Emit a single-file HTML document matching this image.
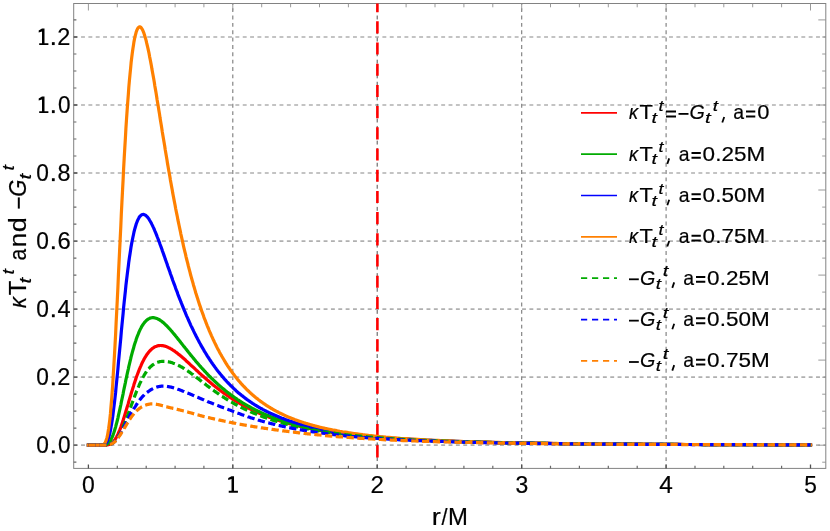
<!DOCTYPE html>
<html><head><meta charset="utf-8"><title>plot</title>
<style>html,body{margin:0;padding:0;background:#fff}svg{display:block}text{font-family:"Liberation Sans",sans-serif;fill:#000}.i{font-style:italic}</style></head><body>
<svg width="830" height="531" viewBox="0 0 830 531">
<rect width="830" height="531" fill="#fff"/>
<g stroke="#b0b0b0" stroke-width="1.7" stroke-dasharray="3.9 3.45" fill="none"><line x1="73.7" y1="445.2" x2="825.8" y2="445.2"/><line x1="73.7" y1="377.2" x2="825.8" y2="377.2"/><line x1="73.7" y1="309.1" x2="825.8" y2="309.1"/><line x1="73.7" y1="241.1" x2="825.8" y2="241.1"/><line x1="73.7" y1="173.0" x2="825.8" y2="173.0"/><line x1="73.7" y1="105.0" x2="825.8" y2="105.0"/><line x1="73.7" y1="37.0" x2="825.8" y2="37.0"/></g>
<g stroke="#7a7a7a" stroke-width="1.1" stroke-dasharray="3.9 3.46" fill="none"><line x1="232.8" y1="468.4" x2="232.8" y2="3.5"/><line x1="521.7" y1="468.4" x2="521.7" y2="3.5"/><line x1="666.1" y1="468.4" x2="666.1" y2="3.5"/></g>
<line x1="377.2" y1="468.4" x2="377.2" y2="3.5" stroke="#505050" stroke-width="1" stroke-dasharray="3.9 3.46"/>
<rect x="73.7" y="3.5" width="752.1" height="464.9" fill="none" stroke="#828282" stroke-width="1.0"/>
<path d="M88.4,3.5v7.0M117.3,3.5v3.8M146.2,3.5v3.8M175.1,3.5v3.8M203.9,3.5v3.8M232.8,3.5v7.0M261.7,3.5v3.8M290.6,3.5v3.8M319.5,3.5v3.8M348.4,3.5v3.8M377.2,3.5v7.0M406.1,3.5v3.8M435.0,3.5v3.8M463.9,3.5v3.8M492.8,3.5v3.8M521.7,3.5v7.0M550.5,3.5v3.8M579.4,3.5v3.8M608.3,3.5v3.8M637.2,3.5v3.8M666.1,3.5v7.0M695.0,3.5v3.8M723.8,3.5v3.8M752.7,3.5v3.8M781.6,3.5v3.8M810.5,3.5v7.0M825.8,462.2h-3.6M825.8,445.2h-7.5M825.8,428.2h-3.6M825.8,411.2h-3.6M825.8,394.2h-3.6M825.8,377.2h-3.6M825.8,360.1h-7.5M825.8,343.1h-3.6M825.8,326.1h-3.6M825.8,309.1h-3.6M825.8,292.1h-3.6M825.8,275.1h-7.5M825.8,258.1h-3.6M825.8,241.1h-3.6M825.8,224.1h-3.6M825.8,207.1h-3.6M825.8,190.0h-7.5M825.8,173.0h-3.6M825.8,156.0h-3.6M825.8,139.0h-3.6M825.8,122.0h-3.6M825.8,105.0h-7.5M825.8,88.0h-3.6M825.8,71.0h-3.6M825.8,54.0h-3.6M825.8,37.0h-3.6M825.8,19.9h-7.5" stroke="#8e8e8e" stroke-width="0.9" fill="none"/>
<path d="M117.3,468.4v-2.7M146.2,468.4v-2.7M175.1,468.4v-2.7M203.9,468.4v-2.7M261.7,468.4v-2.7M290.6,468.4v-2.7M319.5,468.4v-2.7M348.4,468.4v-2.7M406.1,468.4v-2.7M435.0,468.4v-2.7M463.9,468.4v-2.7M492.8,468.4v-2.7M550.5,468.4v-2.7M579.4,468.4v-2.7M608.3,468.4v-2.7M637.2,468.4v-2.7M695.0,468.4v-2.7M723.8,468.4v-2.7M752.7,468.4v-2.7M781.6,468.4v-2.7M73.7,462.2h2.7M73.7,428.2h2.7M73.7,411.2h2.7M73.7,394.2h2.7M73.7,360.1h2.7M73.7,343.1h2.7M73.7,326.1h2.7M73.7,292.1h2.7M73.7,275.1h2.7M73.7,258.1h2.7M73.7,224.1h2.7M73.7,207.1h2.7M73.7,190.0h2.7M73.7,156.0h2.7M73.7,139.0h2.7M73.7,122.0h2.7M73.7,88.0h2.7M73.7,71.0h2.7M73.7,54.0h2.7M73.7,19.9h2.7" stroke="#686868" stroke-width="1.2" fill="none"/>
<path d="M88.4,468.4v-4M232.8,468.4v-4M377.2,468.4v-4M521.7,468.4v-4M666.1,468.4v-4M810.5,468.4v-4M73.7,445.2h3.6M73.7,377.2h3.6M73.7,309.1h3.6M73.7,241.1h3.6M73.7,173.0h3.6M73.7,105.0h3.6M73.7,37.0h3.6" stroke="#505050" stroke-width="1.3" fill="none"/>
<clipPath id="c"><rect x="73.7" y="3.5" width="752.1" height="464.9"/></clipPath>
<line clip-path="url(#c)" x1="377.4" y1="0.1" x2="377.4" y2="464.4" stroke="#ff0000" stroke-width="2.6" stroke-dasharray="12.1 9.1"/>
<path d="M88.4,445.2 L100.0,445.2 L102.8,445.2 L103.4,445.2 L104.0,445.2 L104.6,445.2 L105.2,445.1 L105.7,445.1 L106.3,445.1 L106.9,445.0 L107.5,444.9 L108.0,444.8 L108.6,444.6 L109.2,444.5 L109.8,444.2 L110.4,444.0 L110.9,443.6 L111.5,443.3 L112.1,442.8 L112.7,442.3 L113.2,441.7 L113.8,441.1 L114.4,440.4 L115.0,439.6 L115.6,438.7 L116.1,437.7 L116.7,436.7 L117.3,435.5 L117.9,434.4 L118.4,433.1 L119.0,431.7 L119.6,430.3 L120.2,428.8 L120.8,427.3 L121.3,425.7 L121.9,424.0 L122.5,422.3 L123.1,420.6 L123.6,418.8 L124.2,416.9 L124.8,415.0 L125.4,413.1 L125.9,411.2 L126.5,409.3 L127.1,407.3 L127.7,405.4 L128.3,403.4 L128.8,401.4 L129.4,399.5 L130.0,397.5 L130.6,395.6 L131.1,393.7 L131.7,391.7 L132.3,389.9 L132.9,388.0 L133.5,386.2 L134.0,384.3 L134.6,382.6 L135.2,380.8 L135.8,379.1 L136.3,377.4 L136.9,375.8 L137.5,374.2 L138.1,372.7 L138.7,371.2 L139.2,369.7 L139.8,368.3 L140.4,366.9 L141.0,365.6 L141.5,364.3 L142.1,363.0 L142.7,361.8 L143.3,360.7 L143.9,359.6 L144.4,358.5 L145.0,357.5 L145.6,356.6 L146.2,355.7 L146.7,354.8 L147.3,354.0 L147.9,353.2 L148.5,352.4 L149.1,351.7 L149.6,351.1 L150.2,350.5 L150.8,349.9 L151.4,349.3 L151.9,348.8 L152.5,348.4 L153.1,348.0 L153.7,347.6 L154.3,347.2 L154.8,346.9 L155.4,346.6 L156.0,346.4 L156.6,346.2 L157.1,346.0 L157.7,345.8 L158.3,345.7 L158.9,345.6 L159.5,345.6 L160.0,345.5 L160.6,345.5 L161.2,345.5 L161.8,345.6 L162.3,345.6 L162.9,345.7 L163.5,345.8 L164.1,345.9 L164.7,346.1 L165.2,346.3 L165.8,346.4 L166.4,346.6 L167.0,346.9 L167.5,347.1 L168.1,347.4 L168.7,347.7 L169.3,347.9 L169.9,348.2 L170.4,348.6 L171.0,348.9 L171.6,349.2 L172.2,349.6 L172.7,350.0 L173.3,350.4 L173.9,350.7 L174.5,351.1 L175.1,351.6 L175.6,352.0 L176.2,352.4 L176.8,352.8 L177.4,353.3 L177.9,353.7 L178.5,354.2 L179.1,354.7 L179.7,355.1 L180.3,355.6 L180.8,356.1 L181.4,356.6 L182.0,357.1 L182.6,357.6 L183.1,358.1 L183.7,358.6 L184.3,359.1 L184.9,359.6 L185.5,360.1 L186.0,360.7 L186.6,361.2 L187.2,361.7 L187.8,362.2 L188.3,362.8 L188.9,363.3 L189.5,363.8 L190.1,364.4 L190.6,364.9 L191.2,365.4 L191.8,366.0 L192.4,366.5 L193.0,367.0 L193.5,367.6 L194.1,368.1 L194.7,368.6 L195.3,369.2 L195.8,369.7 L196.4,370.2 L197.0,370.8 L197.6,371.3 L198.2,371.8 L198.7,372.3 L199.3,372.9 L199.9,373.4 L200.5,373.9 L201.0,374.4 L201.6,375.0 L202.2,375.5 L202.8,376.0 L203.4,376.5 L203.9,377.0 L204.5,377.5 L205.1,378.0 L205.7,378.5 L206.2,379.1 L206.8,379.6 L207.4,380.1 L208.0,380.5 L208.6,381.0 L209.1,381.5 L209.7,382.0 L210.3,382.5 L210.9,383.0 L211.4,383.5 L212.0,383.9 L212.6,384.4 L213.2,384.9 L213.8,385.4 L214.3,385.8 L214.9,386.3 L215.5,386.8 L216.1,387.2 L216.6,387.7 L217.2,388.1 L217.8,388.6 L218.4,389.0 L219.0,389.5 L219.5,389.9 L220.1,390.3 L220.7,390.8 L221.3,391.2 L221.8,391.6 L222.4,392.0 L223.0,392.5 L223.6,392.9 L224.2,393.3 L224.7,393.7 L225.3,394.1 L225.9,394.5 L226.5,394.9 L227.0,395.3 L227.6,395.7 L228.2,396.1 L228.8,396.5 L229.4,396.9 L229.9,397.3 L230.5,397.7 L231.1,398.0 L231.7,398.4 L232.2,398.8 L232.8,399.2 L233.4,399.5 L234.0,399.9 L234.6,400.3 L235.1,400.6 L235.7,401.0 L236.3,401.3 L236.9,401.7 L237.4,402.0 L238.0,402.4 L238.6,402.7 L239.2,403.0 L239.8,403.4 L240.3,403.7 L240.9,404.0 L241.5,404.4 L242.1,404.7 L242.6,405.0 L243.2,405.3 L243.8,405.6 L244.4,406.0 L245.0,406.3 L245.5,406.6 L246.1,406.9 L246.7,407.2 L247.3,407.5 L247.8,407.8 L248.4,408.1 L249.0,408.4 L249.6,408.7 L250.2,408.9 L250.7,409.2 L251.3,409.5 L251.9,409.8 L252.5,410.1 L253.0,410.4 L253.6,410.6 L254.2,410.9 L254.8,411.2 L255.3,411.4 L255.9,411.7 L256.5,412.0 L257.1,412.2 L257.7,412.5 L258.2,412.7 L258.8,413.0 L259.4,413.2 L260.0,413.5 L260.5,413.7 L261.1,414.0 L261.7,414.2 L262.3,414.5 L262.9,414.7 L263.4,414.9 L264.0,415.2 L264.6,415.4 L265.2,415.6 L265.7,415.8 L266.3,416.1 L266.9,416.3 L267.5,416.5 L268.1,416.7 L268.6,417.0 L269.2,417.2 L269.8,417.4 L270.4,417.6 L270.9,417.8 L271.5,418.0 L272.1,418.2 L272.7,418.4 L273.3,418.6 L273.8,418.8 L274.4,419.0 L275.0,419.2 L275.6,419.4 L276.1,419.6 L276.7,419.8 L277.3,420.0 L277.9,420.2 L278.5,420.4 L279.0,420.6 L279.6,420.8 L280.2,420.9 L280.8,421.1 L281.3,421.3 L281.9,421.5 L282.5,421.7 L283.1,421.8 L283.7,422.0 L284.2,422.2 L284.8,422.3 L285.4,422.5 L286.0,422.7 L286.5,422.9 L287.1,423.0 L287.7,423.2 L288.3,423.3 L288.9,423.5 L289.4,423.7 L290.0,423.8 L290.6,424.0 L291.2,424.1 L291.7,424.3 L292.3,424.4 L292.9,424.6 L293.5,424.7 L294.1,424.9 L294.6,425.0 L295.2,425.2 L295.8,425.3 L296.4,425.5 L296.9,425.6 L297.5,425.8 L298.1,425.9 L298.7,426.0 L299.3,426.2 L299.8,426.3 L300.4,426.4 L301.0,426.6 L301.6,426.7 L302.1,426.8 L302.7,427.0 L303.3,427.1 L303.9,427.2 L304.5,427.4 L305.0,427.5 L305.6,427.6 L306.2,427.7 L306.8,427.9 L307.3,428.0 L307.9,428.1 L308.5,428.2 L309.1,428.3 L309.7,428.5 L310.2,428.6 L310.8,428.7 L311.4,428.8 L312.0,428.9 L312.5,429.0 L313.1,429.1 L313.7,429.3 L314.3,429.4 L314.9,429.5 L315.4,429.6 L316.0,429.7 L316.6,429.8 L317.2,429.9 L317.7,430.0 L318.3,430.1 L318.9,430.2 L319.5,430.3 L322.4,430.8 L325.2,431.3 L328.1,431.8 L331.0,432.2 L333.9,432.6 L336.8,433.0 L339.7,433.4 L342.6,433.8 L345.5,434.2 L348.4,434.5 L351.2,434.9 L354.1,435.2 L357.0,435.5 L359.9,435.8 L362.8,436.1 L365.7,436.4 L368.6,436.6 L371.5,436.9 L374.4,437.1 L377.2,437.4 L380.1,437.6 L383.0,437.8 L385.9,438.0 L388.8,438.3 L391.7,438.5 L394.6,438.6 L397.5,438.8 L400.3,439.0 L403.2,439.2 L406.1,439.3 L409.0,439.5 L411.9,439.7 L414.8,439.8 L417.7,440.0 L420.6,440.1 L423.5,440.2 L426.3,440.4 L429.2,440.5 L432.1,440.6 L435.0,440.7 L437.9,440.9 L440.8,441.0 L443.7,441.1 L446.6,441.2 L449.5,441.3 L452.3,441.4 L455.2,441.5 L458.1,441.6 L461.0,441.7 L463.9,441.8 L466.8,441.8 L469.7,441.9 L472.6,442.0 L475.4,442.1 L478.3,442.1 L481.2,442.2 L484.1,442.3 L487.0,442.4 L489.9,442.4 L492.8,442.5 L495.7,442.6 L498.6,442.6 L501.4,442.7 L504.3,442.7 L507.2,442.8 L510.1,442.8 L513.0,442.9 L515.9,442.9 L518.8,443.0 L521.7,443.0 L524.5,443.1 L527.4,443.1 L530.3,443.2 L533.2,443.2 L536.1,443.3 L539.0,443.3 L541.9,443.3 L544.8,443.4 L547.7,443.4 L550.5,443.5 L553.4,443.5 L556.3,443.5 L559.2,443.6 L562.1,443.6 L565.0,443.6 L567.9,443.7 L570.8,443.7 L573.7,443.7 L576.5,443.8 L579.4,443.8 L582.3,443.8 L585.2,443.8 L588.1,443.9 L591.0,443.9 L593.9,443.9 L596.8,443.9 L599.6,444.0 L602.5,444.0 L605.4,444.0 L608.3,444.0 L611.2,444.1 L614.1,444.1 L617.0,444.1 L619.9,444.1 L622.8,444.1 L625.6,444.2 L628.5,444.2 L631.4,444.2 L634.3,444.2 L637.2,444.2 L640.1,444.3 L643.0,444.3 L645.9,444.3 L648.7,444.3 L651.6,444.3 L654.5,444.3 L657.4,444.4 L660.3,444.4 L663.2,444.4 L666.1,444.4 L669.0,444.4 L671.9,444.4 L674.7,444.4 L677.6,444.4 L680.5,444.5 L683.4,444.5 L686.3,444.5 L689.2,444.5 L692.1,444.5 L695.0,444.5 L697.9,444.5 L700.7,444.5 L703.6,444.6 L706.5,444.6 L709.4,444.6 L712.3,444.6 L715.2,444.6 L718.1,444.6 L721.0,444.6 L723.8,444.6 L726.7,444.6 L729.6,444.6 L732.5,444.7 L735.4,444.7 L738.3,444.7 L741.2,444.7 L744.1,444.7 L747.0,444.7 L749.8,444.7 L752.7,444.7 L755.6,444.7 L758.5,444.7 L761.4,444.7 L764.3,444.7 L767.2,444.7 L770.1,444.8 L773.0,444.8 L775.8,444.8 L778.7,444.8 L781.6,444.8 L784.5,444.8 L787.4,444.8 L790.3,444.8 L793.2,444.8 L796.1,444.8 L798.9,444.8 L801.8,444.8 L804.7,444.8 L807.6,444.8 L810.5,444.8" fill="none" stroke="#ff0000" stroke-width="3.2" stroke-linejoin="round" stroke-linecap="square"/>
<path d="M88.4,445.2 L100.0,445.2 L102.8,445.1 L103.4,445.1 L104.0,445.1 L104.6,445.0 L105.2,444.9 L105.7,444.7 L106.3,444.5 L106.9,444.2 L107.5,443.8 L108.0,443.4 L108.6,442.9 L109.2,442.2 L109.8,441.5 L110.4,440.6 L110.9,439.7 L111.5,438.5 L112.1,437.3 L112.7,435.9 L113.2,434.4 L113.8,432.8 L114.4,431.0 L115.0,429.1 L115.6,427.1 L116.1,425.0 L116.7,422.8 L117.3,420.5 L117.9,418.1 L118.4,415.6 L119.0,413.0 L119.6,410.4 L120.2,407.7 L120.8,405.0 L121.3,402.2 L121.9,399.4 L122.5,396.6 L123.1,393.8 L123.6,391.0 L124.2,388.2 L124.8,385.4 L125.4,382.6 L125.9,379.8 L126.5,377.1 L127.1,374.4 L127.7,371.7 L128.3,369.1 L128.8,366.6 L129.4,364.1 L130.0,361.6 L130.6,359.2 L131.1,356.9 L131.7,354.6 L132.3,352.4 L132.9,350.3 L133.5,348.2 L134.0,346.3 L134.6,344.3 L135.2,342.5 L135.8,340.7 L136.3,339.0 L136.9,337.4 L137.5,335.8 L138.1,334.4 L138.7,332.9 L139.2,331.6 L139.8,330.3 L140.4,329.1 L141.0,328.0 L141.5,326.9 L142.1,325.9 L142.7,325.0 L143.3,324.1 L143.9,323.3 L144.4,322.6 L145.0,321.9 L145.6,321.3 L146.2,320.7 L146.7,320.2 L147.3,319.7 L147.9,319.3 L148.5,318.9 L149.1,318.6 L149.6,318.3 L150.2,318.1 L150.8,318.0 L151.4,317.8 L151.9,317.7 L152.5,317.7 L153.1,317.7 L153.7,317.7 L154.3,317.8 L154.8,317.9 L155.4,318.0 L156.0,318.2 L156.6,318.4 L157.1,318.6 L157.7,318.9 L158.3,319.2 L158.9,319.5 L159.5,319.8 L160.0,320.2 L160.6,320.6 L161.2,321.0 L161.8,321.4 L162.3,321.9 L162.9,322.3 L163.5,322.8 L164.1,323.3 L164.7,323.9 L165.2,324.4 L165.8,325.0 L166.4,325.5 L167.0,326.1 L167.5,326.7 L168.1,327.3 L168.7,327.9 L169.3,328.6 L169.9,329.2 L170.4,329.8 L171.0,330.5 L171.6,331.2 L172.2,331.8 L172.7,332.5 L173.3,333.2 L173.9,333.9 L174.5,334.6 L175.1,335.3 L175.6,336.0 L176.2,336.7 L176.8,337.4 L177.4,338.2 L177.9,338.9 L178.5,339.6 L179.1,340.3 L179.7,341.1 L180.3,341.8 L180.8,342.5 L181.4,343.2 L182.0,344.0 L182.6,344.7 L183.1,345.4 L183.7,346.2 L184.3,346.9 L184.9,347.6 L185.5,348.4 L186.0,349.1 L186.6,349.8 L187.2,350.6 L187.8,351.3 L188.3,352.0 L188.9,352.7 L189.5,353.4 L190.1,354.2 L190.6,354.9 L191.2,355.6 L191.8,356.3 L192.4,357.0 L193.0,357.7 L193.5,358.4 L194.1,359.1 L194.7,359.8 L195.3,360.5 L195.8,361.2 L196.4,361.9 L197.0,362.5 L197.6,363.2 L198.2,363.9 L198.7,364.5 L199.3,365.2 L199.9,365.9 L200.5,366.5 L201.0,367.2 L201.6,367.8 L202.2,368.5 L202.8,369.1 L203.4,369.7 L203.9,370.4 L204.5,371.0 L205.1,371.6 L205.7,372.2 L206.2,372.8 L206.8,373.4 L207.4,374.1 L208.0,374.7 L208.6,375.2 L209.1,375.8 L209.7,376.4 L210.3,377.0 L210.9,377.6 L211.4,378.2 L212.0,378.7 L212.6,379.3 L213.2,379.8 L213.8,380.4 L214.3,380.9 L214.9,381.5 L215.5,382.0 L216.1,382.6 L216.6,383.1 L217.2,383.6 L217.8,384.2 L218.4,384.7 L219.0,385.2 L219.5,385.7 L220.1,386.2 L220.7,386.7 L221.3,387.2 L221.8,387.7 L222.4,388.2 L223.0,388.7 L223.6,389.1 L224.2,389.6 L224.7,390.1 L225.3,390.6 L225.9,391.0 L226.5,391.5 L227.0,391.9 L227.6,392.4 L228.2,392.8 L228.8,393.3 L229.4,393.7 L229.9,394.2 L230.5,394.6 L231.1,395.0 L231.7,395.4 L232.2,395.9 L232.8,396.3 L233.4,396.7 L234.0,397.1 L234.6,397.5 L235.1,397.9 L235.7,398.3 L236.3,398.7 L236.9,399.1 L237.4,399.5 L238.0,399.9 L238.6,400.2 L239.2,400.6 L239.8,401.0 L240.3,401.4 L240.9,401.7 L241.5,402.1 L242.1,402.4 L242.6,402.8 L243.2,403.2 L243.8,403.5 L244.4,403.9 L245.0,404.2 L245.5,404.5 L246.1,404.9 L246.7,405.2 L247.3,405.5 L247.8,405.9 L248.4,406.2 L249.0,406.5 L249.6,406.8 L250.2,407.1 L250.7,407.5 L251.3,407.8 L251.9,408.1 L252.5,408.4 L253.0,408.7 L253.6,409.0 L254.2,409.3 L254.8,409.6 L255.3,409.9 L255.9,410.1 L256.5,410.4 L257.1,410.7 L257.7,411.0 L258.2,411.3 L258.8,411.5 L259.4,411.8 L260.0,412.1 L260.5,412.3 L261.1,412.6 L261.7,412.9 L262.3,413.1 L262.9,413.4 L263.4,413.6 L264.0,413.9 L264.6,414.1 L265.2,414.4 L265.7,414.6 L266.3,414.9 L266.9,415.1 L267.5,415.4 L268.1,415.6 L268.6,415.8 L269.2,416.1 L269.8,416.3 L270.4,416.5 L270.9,416.7 L271.5,417.0 L272.1,417.2 L272.7,417.4 L273.3,417.6 L273.8,417.8 L274.4,418.1 L275.0,418.3 L275.6,418.5 L276.1,418.7 L276.7,418.9 L277.3,419.1 L277.9,419.3 L278.5,419.5 L279.0,419.7 L279.6,419.9 L280.2,420.1 L280.8,420.3 L281.3,420.5 L281.9,420.7 L282.5,420.8 L283.1,421.0 L283.7,421.2 L284.2,421.4 L284.8,421.6 L285.4,421.8 L286.0,421.9 L286.5,422.1 L287.1,422.3 L287.7,422.5 L288.3,422.6 L288.9,422.8 L289.4,423.0 L290.0,423.1 L290.6,423.3 L291.2,423.5 L291.7,423.6 L292.3,423.8 L292.9,423.9 L293.5,424.1 L294.1,424.3 L294.6,424.4 L295.2,424.6 L295.8,424.7 L296.4,424.9 L296.9,425.0 L297.5,425.2 L298.1,425.3 L298.7,425.5 L299.3,425.6 L299.8,425.8 L300.4,425.9 L301.0,426.0 L301.6,426.2 L302.1,426.3 L302.7,426.5 L303.3,426.6 L303.9,426.7 L304.5,426.9 L305.0,427.0 L305.6,427.1 L306.2,427.3 L306.8,427.4 L307.3,427.5 L307.9,427.6 L308.5,427.8 L309.1,427.9 L309.7,428.0 L310.2,428.1 L310.8,428.3 L311.4,428.4 L312.0,428.5 L312.5,428.6 L313.1,428.7 L313.7,428.9 L314.3,429.0 L314.9,429.1 L315.4,429.2 L316.0,429.3 L316.6,429.4 L317.2,429.5 L317.7,429.6 L318.3,429.7 L318.9,429.9 L319.5,430.0 L322.4,430.5 L325.2,431.0 L328.1,431.5 L331.0,431.9 L333.9,432.4 L336.8,432.8 L339.7,433.2 L342.6,433.6 L345.5,434.0 L348.4,434.3 L351.2,434.7 L354.1,435.0 L357.0,435.3 L359.9,435.6 L362.8,435.9 L365.7,436.2 L368.6,436.5 L371.5,436.8 L374.4,437.0 L377.2,437.3 L380.1,437.5 L383.0,437.7 L385.9,437.9 L388.8,438.2 L391.7,438.4 L394.6,438.6 L397.5,438.7 L400.3,438.9 L403.2,439.1 L406.1,439.3 L409.0,439.4 L411.9,439.6 L414.8,439.8 L417.7,439.9 L420.6,440.0 L423.5,440.2 L426.3,440.3 L429.2,440.4 L432.1,440.6 L435.0,440.7 L437.9,440.8 L440.8,440.9 L443.7,441.0 L446.6,441.1 L449.5,441.2 L452.3,441.3 L455.2,441.4 L458.1,441.5 L461.0,441.6 L463.9,441.7 L466.8,441.8 L469.7,441.9 L472.6,442.0 L475.4,442.0 L478.3,442.1 L481.2,442.2 L484.1,442.3 L487.0,442.3 L489.9,442.4 L492.8,442.5 L495.7,442.5 L498.6,442.6 L501.4,442.7 L504.3,442.7 L507.2,442.8 L510.1,442.8 L513.0,442.9 L515.9,442.9 L518.8,443.0 L521.7,443.0 L524.5,443.1 L527.4,443.1 L530.3,443.2 L533.2,443.2 L536.1,443.3 L539.0,443.3 L541.9,443.3 L544.8,443.4 L547.7,443.4 L550.5,443.5 L553.4,443.5 L556.3,443.5 L559.2,443.6 L562.1,443.6 L565.0,443.6 L567.9,443.7 L570.8,443.7 L573.7,443.7 L576.5,443.7 L579.4,443.8 L582.3,443.8 L585.2,443.8 L588.1,443.9 L591.0,443.9 L593.9,443.9 L596.8,443.9 L599.6,444.0 L602.5,444.0 L605.4,444.0 L608.3,444.0 L611.2,444.1 L614.1,444.1 L617.0,444.1 L619.9,444.1 L622.8,444.1 L625.6,444.2 L628.5,444.2 L631.4,444.2 L634.3,444.2 L637.2,444.2 L640.1,444.2 L643.0,444.3 L645.9,444.3 L648.7,444.3 L651.6,444.3 L654.5,444.3 L657.4,444.3 L660.3,444.4 L663.2,444.4 L666.1,444.4 L669.0,444.4 L671.9,444.4 L674.7,444.4 L677.6,444.4 L680.5,444.5 L683.4,444.5 L686.3,444.5 L689.2,444.5 L692.1,444.5 L695.0,444.5 L697.9,444.5 L700.7,444.5 L703.6,444.6 L706.5,444.6 L709.4,444.6 L712.3,444.6 L715.2,444.6 L718.1,444.6 L721.0,444.6 L723.8,444.6 L726.7,444.6 L729.6,444.6 L732.5,444.6 L735.4,444.7 L738.3,444.7 L741.2,444.7 L744.1,444.7 L747.0,444.7 L749.8,444.7 L752.7,444.7 L755.6,444.7 L758.5,444.7 L761.4,444.7 L764.3,444.7 L767.2,444.7 L770.1,444.8 L773.0,444.8 L775.8,444.8 L778.7,444.8 L781.6,444.8 L784.5,444.8 L787.4,444.8 L790.3,444.8 L793.2,444.8 L796.1,444.8 L798.9,444.8 L801.8,444.8 L804.7,444.8 L807.6,444.8 L810.5,444.8" fill="none" stroke="#00ab00" stroke-width="3.2" stroke-linejoin="round" stroke-linecap="square"/>
<path d="M88.4,445.2 L100.0,445.2 L102.8,445.0 L103.4,444.9 L104.0,444.7 L104.6,444.4 L105.2,444.0 L105.7,443.5 L106.3,442.7 L106.9,441.8 L107.5,440.7 L108.0,439.3 L108.6,437.6 L109.2,435.6 L109.8,433.3 L110.4,430.7 L110.9,427.7 L111.5,424.4 L112.1,420.7 L112.7,416.7 L113.2,412.5 L113.8,407.9 L114.4,403.0 L115.0,397.8 L115.6,392.5 L116.1,386.9 L116.7,381.1 L117.3,375.2 L117.9,369.2 L118.4,363.0 L119.0,356.8 L119.6,350.6 L120.2,344.3 L120.8,338.0 L121.3,331.8 L121.9,325.7 L122.5,319.6 L123.1,313.6 L123.6,307.7 L124.2,301.9 L124.8,296.3 L125.4,290.9 L125.9,285.6 L126.5,280.5 L127.1,275.6 L127.7,270.8 L128.3,266.3 L128.8,261.9 L129.4,257.8 L130.0,253.9 L130.6,250.1 L131.1,246.6 L131.7,243.3 L132.3,240.2 L132.9,237.2 L133.5,234.5 L134.0,232.0 L134.6,229.7 L135.2,227.5 L135.8,225.5 L136.3,223.8 L136.9,222.2 L137.5,220.7 L138.1,219.4 L138.7,218.3 L139.2,217.3 L139.8,216.5 L140.4,215.9 L141.0,215.3 L141.5,214.9 L142.1,214.6 L142.7,214.5 L143.3,214.4 L143.9,214.5 L144.4,214.7 L145.0,214.9 L145.6,215.3 L146.2,215.8 L146.7,216.3 L147.3,216.9 L147.9,217.6 L148.5,218.4 L149.1,219.3 L149.6,220.2 L150.2,221.2 L150.8,222.2 L151.4,223.3 L151.9,224.4 L152.5,225.6 L153.1,226.9 L153.7,228.1 L154.3,229.5 L154.8,230.8 L155.4,232.2 L156.0,233.6 L156.6,235.1 L157.1,236.5 L157.7,238.0 L158.3,239.5 L158.9,241.1 L159.5,242.6 L160.0,244.2 L160.6,245.8 L161.2,247.4 L161.8,249.0 L162.3,250.6 L162.9,252.3 L163.5,253.9 L164.1,255.6 L164.7,257.2 L165.2,258.9 L165.8,260.5 L166.4,262.2 L167.0,263.8 L167.5,265.5 L168.1,267.1 L168.7,268.8 L169.3,270.4 L169.9,272.0 L170.4,273.7 L171.0,275.3 L171.6,276.9 L172.2,278.6 L172.7,280.2 L173.3,281.8 L173.9,283.4 L174.5,284.9 L175.1,286.5 L175.6,288.1 L176.2,289.7 L176.8,291.2 L177.4,292.7 L177.9,294.3 L178.5,295.8 L179.1,297.3 L179.7,298.8 L180.3,300.3 L180.8,301.7 L181.4,303.2 L182.0,304.6 L182.6,306.1 L183.1,307.5 L183.7,308.9 L184.3,310.3 L184.9,311.7 L185.5,313.1 L186.0,314.4 L186.6,315.8 L187.2,317.1 L187.8,318.4 L188.3,319.7 L188.9,321.0 L189.5,322.3 L190.1,323.6 L190.6,324.8 L191.2,326.1 L191.8,327.3 L192.4,328.5 L193.0,329.7 L193.5,330.9 L194.1,332.1 L194.7,333.3 L195.3,334.4 L195.8,335.6 L196.4,336.7 L197.0,337.8 L197.6,339.0 L198.2,340.1 L198.7,341.1 L199.3,342.2 L199.9,343.3 L200.5,344.3 L201.0,345.4 L201.6,346.4 L202.2,347.4 L202.8,348.4 L203.4,349.4 L203.9,350.4 L204.5,351.4 L205.1,352.3 L205.7,353.3 L206.2,354.2 L206.8,355.1 L207.4,356.1 L208.0,357.0 L208.6,357.9 L209.1,358.8 L209.7,359.6 L210.3,360.5 L210.9,361.4 L211.4,362.2 L212.0,363.0 L212.6,363.9 L213.2,364.7 L213.8,365.5 L214.3,366.3 L214.9,367.1 L215.5,367.9 L216.1,368.7 L216.6,369.4 L217.2,370.2 L217.8,370.9 L218.4,371.7 L219.0,372.4 L219.5,373.1 L220.1,373.8 L220.7,374.5 L221.3,375.2 L221.8,375.9 L222.4,376.6 L223.0,377.3 L223.6,378.0 L224.2,378.6 L224.7,379.3 L225.3,379.9 L225.9,380.5 L226.5,381.2 L227.0,381.8 L227.6,382.4 L228.2,383.0 L228.8,383.6 L229.4,384.2 L229.9,384.8 L230.5,385.4 L231.1,386.0 L231.7,386.5 L232.2,387.1 L232.8,387.6 L233.4,388.2 L234.0,388.7 L234.6,389.3 L235.1,389.8 L235.7,390.3 L236.3,390.9 L236.9,391.4 L237.4,391.9 L238.0,392.4 L238.6,392.9 L239.2,393.4 L239.8,393.8 L240.3,394.3 L240.9,394.8 L241.5,395.3 L242.1,395.7 L242.6,396.2 L243.2,396.6 L243.8,397.1 L244.4,397.5 L245.0,398.0 L245.5,398.4 L246.1,398.8 L246.7,399.3 L247.3,399.7 L247.8,400.1 L248.4,400.5 L249.0,400.9 L249.6,401.3 L250.2,401.7 L250.7,402.1 L251.3,402.5 L251.9,402.9 L252.5,403.3 L253.0,403.6 L253.6,404.0 L254.2,404.4 L254.8,404.8 L255.3,405.1 L255.9,405.5 L256.5,405.8 L257.1,406.2 L257.7,406.5 L258.2,406.9 L258.8,407.2 L259.4,407.5 L260.0,407.9 L260.5,408.2 L261.1,408.5 L261.7,408.8 L262.3,409.1 L262.9,409.5 L263.4,409.8 L264.0,410.1 L264.6,410.4 L265.2,410.7 L265.7,411.0 L266.3,411.3 L266.9,411.6 L267.5,411.9 L268.1,412.1 L268.6,412.4 L269.2,412.7 L269.8,413.0 L270.4,413.3 L270.9,413.5 L271.5,413.8 L272.1,414.1 L272.7,414.3 L273.3,414.6 L273.8,414.8 L274.4,415.1 L275.0,415.3 L275.6,415.6 L276.1,415.8 L276.7,416.1 L277.3,416.3 L277.9,416.6 L278.5,416.8 L279.0,417.0 L279.6,417.3 L280.2,417.5 L280.8,417.7 L281.3,418.0 L281.9,418.2 L282.5,418.4 L283.1,418.6 L283.7,418.8 L284.2,419.0 L284.8,419.3 L285.4,419.5 L286.0,419.7 L286.5,419.9 L287.1,420.1 L287.7,420.3 L288.3,420.5 L288.9,420.7 L289.4,420.9 L290.0,421.1 L290.6,421.3 L291.2,421.5 L291.7,421.6 L292.3,421.8 L292.9,422.0 L293.5,422.2 L294.1,422.4 L294.6,422.6 L295.2,422.7 L295.8,422.9 L296.4,423.1 L296.9,423.3 L297.5,423.4 L298.1,423.6 L298.7,423.8 L299.3,423.9 L299.8,424.1 L300.4,424.3 L301.0,424.4 L301.6,424.6 L302.1,424.7 L302.7,424.9 L303.3,425.1 L303.9,425.2 L304.5,425.4 L305.0,425.5 L305.6,425.7 L306.2,425.8 L306.8,426.0 L307.3,426.1 L307.9,426.3 L308.5,426.4 L309.1,426.5 L309.7,426.7 L310.2,426.8 L310.8,427.0 L311.4,427.1 L312.0,427.2 L312.5,427.4 L313.1,427.5 L313.7,427.6 L314.3,427.8 L314.9,427.9 L315.4,428.0 L316.0,428.1 L316.6,428.3 L317.2,428.4 L317.7,428.5 L318.3,428.6 L318.9,428.8 L319.5,428.9 L322.4,429.5 L325.2,430.0 L328.1,430.6 L331.0,431.1 L333.9,431.6 L336.8,432.0 L339.7,432.5 L342.6,432.9 L345.5,433.3 L348.4,433.7 L351.2,434.1 L354.1,434.5 L357.0,434.8 L359.9,435.1 L362.8,435.5 L365.7,435.8 L368.6,436.1 L371.5,436.4 L374.4,436.6 L377.2,436.9 L380.1,437.1 L383.0,437.4 L385.9,437.6 L388.8,437.8 L391.7,438.1 L394.6,438.3 L397.5,438.5 L400.3,438.7 L403.2,438.9 L406.1,439.0 L409.0,439.2 L411.9,439.4 L414.8,439.6 L417.7,439.7 L420.6,439.9 L423.5,440.0 L426.3,440.2 L429.2,440.3 L432.1,440.4 L435.0,440.6 L437.9,440.7 L440.8,440.8 L443.7,440.9 L446.6,441.0 L449.5,441.1 L452.3,441.2 L455.2,441.3 L458.1,441.4 L461.0,441.5 L463.9,441.6 L466.8,441.7 L469.7,441.8 L472.6,441.9 L475.4,442.0 L478.3,442.0 L481.2,442.1 L484.1,442.2 L487.0,442.3 L489.9,442.3 L492.8,442.4 L495.7,442.5 L498.6,442.5 L501.4,442.6 L504.3,442.7 L507.2,442.7 L510.1,442.8 L513.0,442.8 L515.9,442.9 L518.8,442.9 L521.7,443.0 L524.5,443.0 L527.4,443.1 L530.3,443.1 L533.2,443.2 L536.1,443.2 L539.0,443.3 L541.9,443.3 L544.8,443.3 L547.7,443.4 L550.5,443.4 L553.4,443.5 L556.3,443.5 L559.2,443.5 L562.1,443.6 L565.0,443.6 L567.9,443.6 L570.8,443.7 L573.7,443.7 L576.5,443.7 L579.4,443.8 L582.3,443.8 L585.2,443.8 L588.1,443.8 L591.0,443.9 L593.9,443.9 L596.8,443.9 L599.6,443.9 L602.5,444.0 L605.4,444.0 L608.3,444.0 L611.2,444.0 L614.1,444.1 L617.0,444.1 L619.9,444.1 L622.8,444.1 L625.6,444.1 L628.5,444.2 L631.4,444.2 L634.3,444.2 L637.2,444.2 L640.1,444.2 L643.0,444.3 L645.9,444.3 L648.7,444.3 L651.6,444.3 L654.5,444.3 L657.4,444.3 L660.3,444.4 L663.2,444.4 L666.1,444.4 L669.0,444.4 L671.9,444.4 L674.7,444.4 L677.6,444.4 L680.5,444.4 L683.4,444.5 L686.3,444.5 L689.2,444.5 L692.1,444.5 L695.0,444.5 L697.9,444.5 L700.7,444.5 L703.6,444.5 L706.5,444.6 L709.4,444.6 L712.3,444.6 L715.2,444.6 L718.1,444.6 L721.0,444.6 L723.8,444.6 L726.7,444.6 L729.6,444.6 L732.5,444.6 L735.4,444.7 L738.3,444.7 L741.2,444.7 L744.1,444.7 L747.0,444.7 L749.8,444.7 L752.7,444.7 L755.6,444.7 L758.5,444.7 L761.4,444.7 L764.3,444.7 L767.2,444.7 L770.1,444.7 L773.0,444.8 L775.8,444.8 L778.7,444.8 L781.6,444.8 L784.5,444.8 L787.4,444.8 L790.3,444.8 L793.2,444.8 L796.1,444.8 L798.9,444.8 L801.8,444.8 L804.7,444.8 L807.6,444.8 L810.5,444.8" fill="none" stroke="#0000ff" stroke-width="3.2" stroke-linejoin="round" stroke-linecap="square"/>
<path d="M88.4,445.2 L100.0,445.2 L102.8,444.8 L103.4,444.5 L104.0,444.1 L104.6,443.5 L105.2,442.6 L105.7,441.4 L106.3,439.9 L106.9,437.9 L107.5,435.4 L108.0,432.4 L108.6,428.8 L109.2,424.5 L109.8,419.6 L110.4,414.0 L110.9,407.7 L111.5,400.8 L112.1,393.1 L112.7,384.8 L113.2,375.9 L113.8,366.3 L114.4,356.3 L115.0,345.7 L115.6,334.7 L116.1,323.4 L116.7,311.7 L117.3,299.8 L117.9,287.7 L118.4,275.5 L119.0,263.2 L119.6,250.9 L120.2,238.6 L120.8,226.5 L121.3,214.5 L121.9,202.7 L122.5,191.1 L123.1,179.9 L123.6,168.9 L124.2,158.2 L124.8,147.9 L125.4,138.0 L125.9,128.6 L126.5,119.5 L127.1,110.8 L127.7,102.6 L128.3,94.9 L128.8,87.5 L129.4,80.7 L130.0,74.3 L130.6,68.3 L131.1,62.8 L131.7,57.7 L132.3,53.0 L132.9,48.8 L133.5,45.0 L134.0,41.6 L134.6,38.5 L135.2,35.9 L135.8,33.6 L136.3,31.7 L136.9,30.1 L137.5,28.8 L138.1,27.9 L138.7,27.3 L139.2,26.9 L139.8,26.8 L140.4,27.0 L141.0,27.5 L141.5,28.2 L142.1,29.1 L142.7,30.2 L143.3,31.6 L143.9,33.1 L144.4,34.8 L145.0,36.7 L145.6,38.7 L146.2,40.9 L146.7,43.2 L147.3,45.6 L147.9,48.2 L148.5,50.9 L149.1,53.7 L149.6,56.6 L150.2,59.5 L150.8,62.6 L151.4,65.7 L151.9,68.9 L152.5,72.2 L153.1,75.5 L153.7,78.8 L154.3,82.2 L154.8,85.7 L155.4,89.1 L156.0,92.6 L156.6,96.2 L157.1,99.7 L157.7,103.3 L158.3,106.8 L158.9,110.4 L159.5,114.0 L160.0,117.6 L160.6,121.2 L161.2,124.8 L161.8,128.4 L162.3,131.9 L162.9,135.5 L163.5,139.0 L164.1,142.6 L164.7,146.1 L165.2,149.6 L165.8,153.1 L166.4,156.5 L167.0,160.0 L167.5,163.4 L168.1,166.8 L168.7,170.2 L169.3,173.5 L169.9,176.8 L170.4,180.1 L171.0,183.3 L171.6,186.6 L172.2,189.7 L172.7,192.9 L173.3,196.0 L173.9,199.1 L174.5,202.2 L175.1,205.2 L175.6,208.2 L176.2,211.2 L176.8,214.1 L177.4,217.0 L177.9,219.9 L178.5,222.7 L179.1,225.5 L179.7,228.3 L180.3,231.1 L180.8,233.8 L181.4,236.4 L182.0,239.1 L182.6,241.7 L183.1,244.2 L183.7,246.8 L184.3,249.3 L184.9,251.8 L185.5,254.2 L186.0,256.6 L186.6,259.0 L187.2,261.3 L187.8,263.6 L188.3,265.9 L188.9,268.2 L189.5,270.4 L190.1,272.6 L190.6,274.8 L191.2,276.9 L191.8,279.0 L192.4,281.1 L193.0,283.1 L193.5,285.2 L194.1,287.1 L194.7,289.1 L195.3,291.1 L195.8,293.0 L196.4,294.8 L197.0,296.7 L197.6,298.5 L198.2,300.4 L198.7,302.1 L199.3,303.9 L199.9,305.6 L200.5,307.3 L201.0,309.0 L201.6,310.7 L202.2,312.3 L202.8,313.9 L203.4,315.5 L203.9,317.1 L204.5,318.7 L205.1,320.2 L205.7,321.7 L206.2,323.2 L206.8,324.6 L207.4,326.1 L208.0,327.5 L208.6,328.9 L209.1,330.3 L209.7,331.7 L210.3,333.0 L210.9,334.3 L211.4,335.6 L212.0,336.9 L212.6,338.2 L213.2,339.5 L213.8,340.7 L214.3,341.9 L214.9,343.1 L215.5,344.3 L216.1,345.5 L216.6,346.6 L217.2,347.8 L217.8,348.9 L218.4,350.0 L219.0,351.1 L219.5,352.2 L220.1,353.2 L220.7,354.3 L221.3,355.3 L221.8,356.3 L222.4,357.3 L223.0,358.3 L223.6,359.3 L224.2,360.3 L224.7,361.2 L225.3,362.1 L225.9,363.1 L226.5,364.0 L227.0,364.9 L227.6,365.8 L228.2,366.7 L228.8,367.5 L229.4,368.4 L229.9,369.2 L230.5,370.0 L231.1,370.9 L231.7,371.7 L232.2,372.5 L232.8,373.3 L233.4,374.0 L234.0,374.8 L234.6,375.6 L235.1,376.3 L235.7,377.0 L236.3,377.8 L236.9,378.5 L237.4,379.2 L238.0,379.9 L238.6,380.6 L239.2,381.3 L239.8,381.9 L240.3,382.6 L240.9,383.3 L241.5,383.9 L242.1,384.6 L242.6,385.2 L243.2,385.8 L243.8,386.4 L244.4,387.0 L245.0,387.6 L245.5,388.2 L246.1,388.8 L246.7,389.4 L247.3,389.9 L247.8,390.5 L248.4,391.1 L249.0,391.6 L249.6,392.2 L250.2,392.7 L250.7,393.2 L251.3,393.7 L251.9,394.3 L252.5,394.8 L253.0,395.3 L253.6,395.8 L254.2,396.3 L254.8,396.7 L255.3,397.2 L255.9,397.7 L256.5,398.2 L257.1,398.6 L257.7,399.1 L258.2,399.5 L258.8,400.0 L259.4,400.4 L260.0,400.8 L260.5,401.3 L261.1,401.7 L261.7,402.1 L262.3,402.5 L262.9,402.9 L263.4,403.3 L264.0,403.7 L264.6,404.1 L265.2,404.5 L265.7,404.9 L266.3,405.3 L266.9,405.7 L267.5,406.0 L268.1,406.4 L268.6,406.8 L269.2,407.1 L269.8,407.5 L270.4,407.8 L270.9,408.2 L271.5,408.5 L272.1,408.8 L272.7,409.2 L273.3,409.5 L273.8,409.8 L274.4,410.2 L275.0,410.5 L275.6,410.8 L276.1,411.1 L276.7,411.4 L277.3,411.7 L277.9,412.0 L278.5,412.3 L279.0,412.6 L279.6,412.9 L280.2,413.2 L280.8,413.5 L281.3,413.8 L281.9,414.0 L282.5,414.3 L283.1,414.6 L283.7,414.9 L284.2,415.1 L284.8,415.4 L285.4,415.7 L286.0,415.9 L286.5,416.2 L287.1,416.4 L287.7,416.7 L288.3,416.9 L288.9,417.2 L289.4,417.4 L290.0,417.6 L290.6,417.9 L291.2,418.1 L291.7,418.4 L292.3,418.6 L292.9,418.8 L293.5,419.0 L294.1,419.3 L294.6,419.5 L295.2,419.7 L295.8,419.9 L296.4,420.1 L296.9,420.3 L297.5,420.5 L298.1,420.7 L298.7,420.9 L299.3,421.2 L299.8,421.4 L300.4,421.5 L301.0,421.7 L301.6,421.9 L302.1,422.1 L302.7,422.3 L303.3,422.5 L303.9,422.7 L304.5,422.9 L305.0,423.1 L305.6,423.2 L306.2,423.4 L306.8,423.6 L307.3,423.8 L307.9,423.9 L308.5,424.1 L309.1,424.3 L309.7,424.4 L310.2,424.6 L310.8,424.8 L311.4,424.9 L312.0,425.1 L312.5,425.3 L313.1,425.4 L313.7,425.6 L314.3,425.7 L314.9,425.9 L315.4,426.0 L316.0,426.2 L316.6,426.3 L317.2,426.5 L317.7,426.6 L318.3,426.8 L318.9,426.9 L319.5,427.1 L322.4,427.7 L325.2,428.4 L328.1,429.0 L331.0,429.6 L333.9,430.2 L336.8,430.7 L339.7,431.3 L342.6,431.8 L345.5,432.2 L348.4,432.7 L351.2,433.1 L354.1,433.5 L357.0,433.9 L359.9,434.3 L362.8,434.7 L365.7,435.0 L368.6,435.4 L371.5,435.7 L374.4,436.0 L377.2,436.3 L380.1,436.6 L383.0,436.8 L385.9,437.1 L388.8,437.3 L391.7,437.6 L394.6,437.8 L397.5,438.0 L400.3,438.3 L403.2,438.5 L406.1,438.7 L409.0,438.9 L411.9,439.0 L414.8,439.2 L417.7,439.4 L420.6,439.6 L423.5,439.7 L426.3,439.9 L429.2,440.0 L432.1,440.2 L435.0,440.3 L437.9,440.4 L440.8,440.6 L443.7,440.7 L446.6,440.8 L449.5,440.9 L452.3,441.0 L455.2,441.2 L458.1,441.3 L461.0,441.4 L463.9,441.5 L466.8,441.6 L469.7,441.7 L472.6,441.7 L475.4,441.8 L478.3,441.9 L481.2,442.0 L484.1,442.1 L487.0,442.1 L489.9,442.2 L492.8,442.3 L495.7,442.4 L498.6,442.4 L501.4,442.5 L504.3,442.6 L507.2,442.6 L510.1,442.7 L513.0,442.7 L515.9,442.8 L518.8,442.9 L521.7,442.9 L524.5,443.0 L527.4,443.0 L530.3,443.1 L533.2,443.1 L536.1,443.2 L539.0,443.2 L541.9,443.2 L544.8,443.3 L547.7,443.3 L550.5,443.4 L553.4,443.4 L556.3,443.4 L559.2,443.5 L562.1,443.5 L565.0,443.6 L567.9,443.6 L570.8,443.6 L573.7,443.7 L576.5,443.7 L579.4,443.7 L582.3,443.7 L585.2,443.8 L588.1,443.8 L591.0,443.8 L593.9,443.9 L596.8,443.9 L599.6,443.9 L602.5,443.9 L605.4,444.0 L608.3,444.0 L611.2,444.0 L614.1,444.0 L617.0,444.1 L619.9,444.1 L622.8,444.1 L625.6,444.1 L628.5,444.1 L631.4,444.2 L634.3,444.2 L637.2,444.2 L640.1,444.2 L643.0,444.2 L645.9,444.3 L648.7,444.3 L651.6,444.3 L654.5,444.3 L657.4,444.3 L660.3,444.3 L663.2,444.4 L666.1,444.4 L669.0,444.4 L671.9,444.4 L674.7,444.4 L677.6,444.4 L680.5,444.4 L683.4,444.4 L686.3,444.5 L689.2,444.5 L692.1,444.5 L695.0,444.5 L697.9,444.5 L700.7,444.5 L703.6,444.5 L706.5,444.5 L709.4,444.6 L712.3,444.6 L715.2,444.6 L718.1,444.6 L721.0,444.6 L723.8,444.6 L726.7,444.6 L729.6,444.6 L732.5,444.6 L735.4,444.6 L738.3,444.7 L741.2,444.7 L744.1,444.7 L747.0,444.7 L749.8,444.7 L752.7,444.7 L755.6,444.7 L758.5,444.7 L761.4,444.7 L764.3,444.7 L767.2,444.7 L770.1,444.7 L773.0,444.7 L775.8,444.8 L778.7,444.8 L781.6,444.8 L784.5,444.8 L787.4,444.8 L790.3,444.8 L793.2,444.8 L796.1,444.8 L798.9,444.8 L801.8,444.8 L804.7,444.8 L807.6,444.8 L810.5,444.8" fill="none" stroke="#ff8000" stroke-width="3.2" stroke-linejoin="round" stroke-linecap="square"/>
<path d="M88.4,445.2 L100.0,445.2 L102.8,445.2 L103.4,445.2 L104.0,445.2 L104.6,445.2 L105.2,445.2 L105.7,445.1 L106.3,445.1 L106.9,445.1 L107.5,445.0 L108.0,444.9 L108.6,444.8 L109.2,444.7 L109.8,444.5 L110.4,444.3 L110.9,444.1 L111.5,443.8 L112.1,443.5 L112.7,443.1 L113.2,442.7 L113.8,442.3 L114.4,441.7 L115.0,441.2 L115.6,440.5 L116.1,439.8 L116.7,439.1 L117.3,438.2 L117.9,437.4 L118.4,436.4 L119.0,435.5 L119.6,434.4 L120.2,433.3 L120.8,432.1 L121.3,430.9 L121.9,429.7 L122.5,428.4 L123.1,427.1 L123.6,425.7 L124.2,424.3 L124.8,422.9 L125.4,421.4 L125.9,419.9 L126.5,418.4 L127.1,416.9 L127.7,415.4 L128.3,413.9 L128.8,412.3 L129.4,410.7 L130.0,409.1 L130.6,407.5 L131.1,405.9 L131.7,404.3 L132.3,402.7 L132.9,401.1 L133.5,399.5 L134.0,398.0 L134.6,396.4 L135.2,394.9 L135.8,393.4 L136.3,391.9 L136.9,390.5 L137.5,389.1 L138.1,387.7 L138.7,386.3 L139.2,385.0 L139.8,383.7 L140.4,382.4 L141.0,381.2 L141.5,380.0 L142.1,378.8 L142.7,377.7 L143.3,376.7 L143.9,375.7 L144.4,374.7 L145.0,373.8 L145.6,372.9 L146.2,372.0 L146.7,371.2 L147.3,370.5 L147.9,369.7 L148.5,369.0 L149.1,368.4 L149.6,367.7 L150.2,367.1 L150.8,366.6 L151.4,366.1 L151.9,365.6 L152.5,365.1 L153.1,364.7 L153.7,364.3 L154.3,363.9 L154.8,363.6 L155.4,363.3 L156.0,363.0 L156.6,362.7 L157.1,362.5 L157.7,362.3 L158.3,362.1 L158.9,361.9 L159.5,361.8 L160.0,361.6 L160.6,361.5 L161.2,361.5 L161.8,361.4 L162.3,361.4 L162.9,361.3 L163.5,361.3 L164.1,361.3 L164.7,361.3 L165.2,361.4 L165.8,361.4 L166.4,361.5 L167.0,361.6 L167.5,361.6 L168.1,361.7 L168.7,361.9 L169.3,362.0 L169.9,362.1 L170.4,362.3 L171.0,362.4 L171.6,362.6 L172.2,362.8 L172.7,363.0 L173.3,363.2 L173.9,363.4 L174.5,363.6 L175.1,363.8 L175.6,364.1 L176.2,364.3 L176.8,364.6 L177.4,364.9 L177.9,365.1 L178.5,365.4 L179.1,365.7 L179.7,366.0 L180.3,366.3 L180.8,366.6 L181.4,367.0 L182.0,367.3 L182.6,367.6 L183.1,368.0 L183.7,368.3 L184.3,368.7 L184.9,369.1 L185.5,369.4 L186.0,369.8 L186.6,370.2 L187.2,370.6 L187.8,371.0 L188.3,371.4 L188.9,371.8 L189.5,372.2 L190.1,372.6 L190.6,373.0 L191.2,373.5 L191.8,373.9 L192.4,374.3 L193.0,374.7 L193.5,375.2 L194.1,375.6 L194.7,376.0 L195.3,376.5 L195.8,376.9 L196.4,377.4 L197.0,377.8 L197.6,378.3 L198.2,378.7 L198.7,379.2 L199.3,379.6 L199.9,380.1 L200.5,380.5 L201.0,381.0 L201.6,381.4 L202.2,381.9 L202.8,382.3 L203.4,382.8 L203.9,383.2 L204.5,383.7 L205.1,384.1 L205.7,384.6 L206.2,385.0 L206.8,385.4 L207.4,385.9 L208.0,386.3 L208.6,386.8 L209.1,387.2 L209.7,387.6 L210.3,388.1 L210.9,388.5 L211.4,388.9 L212.0,389.3 L212.6,389.8 L213.2,390.2 L213.8,390.6 L214.3,391.0 L214.9,391.4 L215.5,391.8 L216.1,392.2 L216.6,392.6 L217.2,393.0 L217.8,393.4 L218.4,393.8 L219.0,394.2 L219.5,394.6 L220.1,395.0 L220.7,395.4 L221.3,395.8 L221.8,396.2 L222.4,396.5 L223.0,396.9 L223.6,397.3 L224.2,397.7 L224.7,398.0 L225.3,398.4 L225.9,398.8 L226.5,399.1 L227.0,399.5 L227.6,399.8 L228.2,400.2 L228.8,400.5 L229.4,400.9 L229.9,401.2 L230.5,401.6 L231.1,401.9 L231.7,402.2 L232.2,402.6 L232.8,402.9 L233.4,403.2 L234.0,403.5 L234.6,403.9 L235.1,404.2 L235.7,404.5 L236.3,404.8 L236.9,405.1 L237.4,405.4 L238.0,405.7 L238.6,406.0 L239.2,406.3 L239.8,406.6 L240.3,406.9 L240.9,407.2 L241.5,407.5 L242.1,407.8 L242.6,408.1 L243.2,408.4 L243.8,408.7 L244.4,408.9 L245.0,409.2 L245.5,409.5 L246.1,409.8 L246.7,410.0 L247.3,410.3 L247.8,410.6 L248.4,410.8 L249.0,411.1 L249.6,411.4 L250.2,411.6 L250.7,411.9 L251.3,412.1 L251.9,412.4 L252.5,412.6 L253.0,412.9 L253.6,413.1 L254.2,413.4 L254.8,413.6 L255.3,413.8 L255.9,414.1 L256.5,414.3 L257.1,414.6 L257.7,414.8 L258.2,415.0 L258.8,415.2 L259.4,415.5 L260.0,415.7 L260.5,415.9 L261.1,416.1 L261.7,416.3 L262.3,416.6 L262.9,416.8 L263.4,417.0 L264.0,417.2 L264.6,417.4 L265.2,417.6 L265.7,417.8 L266.3,418.0 L266.9,418.2 L267.5,418.4 L268.1,418.6 L268.6,418.8 L269.2,419.0 L269.8,419.2 L270.4,419.4 L270.9,419.6 L271.5,419.8 L272.1,420.0 L272.7,420.2 L273.3,420.3 L273.8,420.5 L274.4,420.7 L275.0,420.9 L275.6,421.1 L276.1,421.2 L276.7,421.4 L277.3,421.6 L277.9,421.8 L278.5,421.9 L279.0,422.1 L279.6,422.3 L280.2,422.4 L280.8,422.6 L281.3,422.8 L281.9,422.9 L282.5,423.1 L283.1,423.3 L283.7,423.4 L284.2,423.6 L284.8,423.7 L285.4,423.9 L286.0,424.0 L286.5,424.2 L287.1,424.3 L287.7,424.5 L288.3,424.6 L288.9,424.8 L289.4,424.9 L290.0,425.1 L290.6,425.2 L291.2,425.4 L291.7,425.5 L292.3,425.6 L292.9,425.8 L293.5,425.9 L294.1,426.0 L294.6,426.2 L295.2,426.3 L295.8,426.5 L296.4,426.6 L296.9,426.7 L297.5,426.8 L298.1,427.0 L298.7,427.1 L299.3,427.2 L299.8,427.4 L300.4,427.5 L301.0,427.6 L301.6,427.7 L302.1,427.8 L302.7,428.0 L303.3,428.1 L303.9,428.2 L304.5,428.3 L305.0,428.4 L305.6,428.6 L306.2,428.7 L306.8,428.8 L307.3,428.9 L307.9,429.0 L308.5,429.1 L309.1,429.2 L309.7,429.3 L310.2,429.5 L310.8,429.6 L311.4,429.7 L312.0,429.8 L312.5,429.9 L313.1,430.0 L313.7,430.1 L314.3,430.2 L314.9,430.3 L315.4,430.4 L316.0,430.5 L316.6,430.6 L317.2,430.7 L317.7,430.8 L318.3,430.9 L318.9,431.0 L319.5,431.1 L322.4,431.5 L325.2,432.0 L328.1,432.4 L331.0,432.8 L333.9,433.2 L336.8,433.6 L339.7,434.0 L342.6,434.3 L345.5,434.7 L348.4,435.0 L351.2,435.3 L354.1,435.6 L357.0,435.9 L359.9,436.2 L362.8,436.5 L365.7,436.7 L368.6,437.0 L371.5,437.2 L374.4,437.5 L377.2,437.7 L380.1,437.9 L383.0,438.1 L385.9,438.3 L388.8,438.5 L391.7,438.7 L394.6,438.9 L397.5,439.1 L400.3,439.2 L403.2,439.4 L406.1,439.6 L409.0,439.7 L411.9,439.9 L414.8,440.0 L417.7,440.1 L420.6,440.3 L423.5,440.4 L426.3,440.5 L429.2,440.7 L432.1,440.8 L435.0,440.9 L437.9,441.0 L440.8,441.1 L443.7,441.2 L446.6,441.3 L449.5,441.4 L452.3,441.5 L455.2,441.6 L458.1,441.7 L461.0,441.8 L463.9,441.9 L466.8,441.9 L469.7,442.0 L472.6,442.1 L475.4,442.2 L478.3,442.2 L481.2,442.3 L484.1,442.4 L487.0,442.4 L489.9,442.5 L492.8,442.6 L495.7,442.6 L498.6,442.7 L501.4,442.7 L504.3,442.8 L507.2,442.9 L510.1,442.9 L513.0,443.0 L515.9,443.0 L518.8,443.1 L521.7,443.1 L524.5,443.1 L527.4,443.2 L530.3,443.2 L533.2,443.3 L536.1,443.3 L539.0,443.4 L541.9,443.4 L544.8,443.4 L547.7,443.5 L550.5,443.5 L553.4,443.5 L556.3,443.6 L559.2,443.6 L562.1,443.6 L565.0,443.7 L567.9,443.7 L570.8,443.7 L573.7,443.8 L576.5,443.8 L579.4,443.8 L582.3,443.8 L585.2,443.9 L588.1,443.9 L591.0,443.9 L593.9,443.9 L596.8,444.0 L599.6,444.0 L602.5,444.0 L605.4,444.0 L608.3,444.1 L611.2,444.1 L614.1,444.1 L617.0,444.1 L619.9,444.1 L622.8,444.2 L625.6,444.2 L628.5,444.2 L631.4,444.2 L634.3,444.2 L637.2,444.3 L640.1,444.3 L643.0,444.3 L645.9,444.3 L648.7,444.3 L651.6,444.3 L654.5,444.4 L657.4,444.4 L660.3,444.4 L663.2,444.4 L666.1,444.4 L669.0,444.4 L671.9,444.4 L674.7,444.5 L677.6,444.5 L680.5,444.5 L683.4,444.5 L686.3,444.5 L689.2,444.5 L692.1,444.5 L695.0,444.5 L697.9,444.5 L700.7,444.6 L703.6,444.6 L706.5,444.6 L709.4,444.6 L712.3,444.6 L715.2,444.6 L718.1,444.6 L721.0,444.6 L723.8,444.6 L726.7,444.6 L729.6,444.7 L732.5,444.7 L735.4,444.7 L738.3,444.7 L741.2,444.7 L744.1,444.7 L747.0,444.7 L749.8,444.7 L752.7,444.7 L755.6,444.7 L758.5,444.7 L761.4,444.7 L764.3,444.7 L767.2,444.8 L770.1,444.8 L773.0,444.8 L775.8,444.8 L778.7,444.8 L781.6,444.8 L784.5,444.8 L787.4,444.8 L790.3,444.8 L793.2,444.8 L796.1,444.8 L798.9,444.8 L801.8,444.8 L804.7,444.8 L807.6,444.8 L810.5,444.8" fill="none" stroke="#00ab00" stroke-width="3.2" stroke-linejoin="round" stroke-linecap="butt" stroke-dasharray="7.3 3.5"/>
<path d="M88.4,445.2 L100.0,445.2 L102.8,445.2 L103.4,445.2 L104.0,445.2 L104.6,445.2 L105.2,445.2 L105.7,445.1 L106.3,445.1 L106.9,445.1 L107.5,445.0 L108.0,444.9 L108.6,444.8 L109.2,444.7 L109.8,444.5 L110.4,444.3 L110.9,444.1 L111.5,443.8 L112.1,443.5 L112.7,443.2 L113.2,442.7 L113.8,442.3 L114.4,441.8 L115.0,441.2 L115.6,440.6 L116.1,439.9 L116.7,439.2 L117.3,438.4 L117.9,437.6 L118.4,436.8 L119.0,435.9 L119.6,434.9 L120.2,434.0 L120.8,433.0 L121.3,431.9 L121.9,430.9 L122.5,429.8 L123.1,428.7 L123.6,427.6 L124.2,426.5 L124.8,425.3 L125.4,424.2 L125.9,423.0 L126.5,421.8 L127.1,420.6 L127.7,419.5 L128.3,418.3 L128.8,417.2 L129.4,416.0 L130.0,414.9 L130.6,413.9 L131.1,412.9 L131.7,411.9 L132.3,411.0 L132.9,410.2 L133.5,409.3 L134.0,408.4 L134.6,407.6 L135.2,406.7 L135.8,405.8 L136.3,404.9 L136.9,404.0 L137.5,403.1 L138.1,402.3 L138.7,401.4 L139.2,400.6 L139.8,399.8 L140.4,399.1 L141.0,398.4 L141.5,397.7 L142.1,397.0 L142.7,396.4 L143.3,395.8 L143.9,395.2 L144.4,394.6 L145.0,394.1 L145.6,393.6 L146.2,393.2 L146.7,392.7 L147.3,392.3 L147.9,391.8 L148.5,391.4 L149.1,391.0 L149.6,390.6 L150.2,390.2 L150.8,389.8 L151.4,389.5 L151.9,389.2 L152.5,388.9 L153.1,388.6 L153.7,388.3 L154.3,388.0 L154.8,387.8 L155.4,387.6 L156.0,387.3 L156.6,387.1 L157.1,387.0 L157.7,386.8 L158.3,386.7 L158.9,386.6 L159.5,386.4 L160.0,386.4 L160.6,386.3 L161.2,386.2 L161.8,386.2 L162.3,386.2 L162.9,386.2 L163.5,386.2 L164.1,386.2 L164.7,386.2 L165.2,386.2 L165.8,386.3 L166.4,386.3 L167.0,386.4 L167.5,386.5 L168.1,386.6 L168.7,386.7 L169.3,386.8 L169.9,386.9 L170.4,387.0 L171.0,387.1 L171.6,387.3 L172.2,387.4 L172.7,387.6 L173.3,387.7 L173.9,387.9 L174.5,388.1 L175.1,388.3 L175.6,388.4 L176.2,388.6 L176.8,388.8 L177.4,389.0 L177.9,389.2 L178.5,389.4 L179.1,389.6 L179.7,389.9 L180.3,390.1 L180.8,390.3 L181.4,390.5 L182.0,390.7 L182.6,391.0 L183.1,391.2 L183.7,391.4 L184.3,391.7 L184.9,391.9 L185.5,392.2 L186.0,392.4 L186.6,392.6 L187.2,392.9 L187.8,393.1 L188.3,393.4 L188.9,393.6 L189.5,393.8 L190.1,394.1 L190.6,394.3 L191.2,394.6 L191.8,394.8 L192.4,395.1 L193.0,395.3 L193.5,395.6 L194.1,395.8 L194.7,396.1 L195.3,396.3 L195.8,396.6 L196.4,396.8 L197.0,397.1 L197.6,397.3 L198.2,397.6 L198.7,397.8 L199.3,398.1 L199.9,398.3 L200.5,398.6 L201.0,398.8 L201.6,399.1 L202.2,399.3 L202.8,399.6 L203.4,399.8 L203.9,400.0 L204.5,400.3 L205.1,400.5 L205.7,400.8 L206.2,401.0 L206.8,401.2 L207.4,401.5 L208.0,401.7 L208.6,401.9 L209.1,402.2 L209.7,402.4 L210.3,402.6 L210.9,402.8 L211.4,403.1 L212.0,403.3 L212.6,403.5 L213.2,403.8 L213.8,404.0 L214.3,404.2 L214.9,404.4 L215.5,404.7 L216.1,404.9 L216.6,405.1 L217.2,405.4 L217.8,405.6 L218.4,405.8 L219.0,406.0 L219.5,406.3 L220.1,406.5 L220.7,406.7 L221.3,406.9 L221.8,407.1 L222.4,407.4 L223.0,407.6 L223.6,407.8 L224.2,408.0 L224.7,408.2 L225.3,408.4 L225.9,408.6 L226.5,408.9 L227.0,409.1 L227.6,409.3 L228.2,409.5 L228.8,409.7 L229.4,409.9 L229.9,410.1 L230.5,410.3 L231.1,410.6 L231.7,410.8 L232.2,411.0 L232.8,411.2 L233.4,411.4 L234.0,411.7 L234.6,411.9 L235.1,412.1 L235.7,412.3 L236.3,412.5 L236.9,412.8 L237.4,413.0 L238.0,413.2 L238.6,413.4 L239.2,413.6 L239.8,413.8 L240.3,414.0 L240.9,414.2 L241.5,414.5 L242.1,414.7 L242.6,414.9 L243.2,415.1 L243.8,415.3 L244.4,415.5 L245.0,415.7 L245.5,415.9 L246.1,416.1 L246.7,416.3 L247.3,416.5 L247.8,416.7 L248.4,416.9 L249.0,417.1 L249.6,417.3 L250.2,417.5 L250.7,417.7 L251.3,417.9 L251.9,418.0 L252.5,418.2 L253.0,418.4 L253.6,418.6 L254.2,418.8 L254.8,419.0 L255.3,419.1 L255.9,419.3 L256.5,419.5 L257.1,419.7 L257.7,419.8 L258.2,420.0 L258.8,420.2 L259.4,420.4 L260.0,420.5 L260.5,420.7 L261.1,420.9 L261.7,421.0 L262.3,421.2 L262.9,421.4 L263.4,421.5 L264.0,421.7 L264.6,421.8 L265.2,422.0 L265.7,422.2 L266.3,422.3 L266.9,422.5 L267.5,422.6 L268.1,422.8 L268.6,422.9 L269.2,423.1 L269.8,423.2 L270.4,423.4 L270.9,423.5 L271.5,423.7 L272.1,423.8 L272.7,424.0 L273.3,424.1 L273.8,424.3 L274.4,424.4 L275.0,424.5 L275.6,424.7 L276.1,424.8 L276.7,424.9 L277.3,425.1 L277.9,425.2 L278.5,425.4 L279.0,425.5 L279.6,425.6 L280.2,425.8 L280.8,425.9 L281.3,426.0 L281.9,426.1 L282.5,426.3 L283.1,426.4 L283.7,426.5 L284.2,426.6 L284.8,426.8 L285.4,426.9 L286.0,427.0 L286.5,427.1 L287.1,427.3 L287.7,427.4 L288.3,427.5 L288.9,427.6 L289.4,427.7 L290.0,427.8 L290.6,428.0 L291.2,428.1 L291.7,428.2 L292.3,428.3 L292.9,428.4 L293.5,428.5 L294.1,428.6 L294.6,428.7 L295.2,428.9 L295.8,429.0 L296.4,429.1 L296.9,429.2 L297.5,429.3 L298.1,429.4 L298.7,429.5 L299.3,429.6 L299.8,429.7 L300.4,429.8 L301.0,429.9 L301.6,430.0 L302.1,430.1 L302.7,430.2 L303.3,430.3 L303.9,430.4 L304.5,430.5 L305.0,430.6 L305.6,430.7 L306.2,430.8 L306.8,430.9 L307.3,431.0 L307.9,431.0 L308.5,431.1 L309.1,431.2 L309.7,431.3 L310.2,431.4 L310.8,431.5 L311.4,431.6 L312.0,431.7 L312.5,431.8 L313.1,431.8 L313.7,431.9 L314.3,432.0 L314.9,432.1 L315.4,432.2 L316.0,432.3 L316.6,432.3 L317.2,432.4 L317.7,432.5 L318.3,432.6 L318.9,432.7 L319.5,432.8 L322.4,433.1 L325.2,433.5 L328.1,433.9 L331.0,434.2 L333.9,434.6 L336.8,434.9 L339.7,435.2 L342.6,435.5 L345.5,435.8 L348.4,436.1 L351.2,436.3 L354.1,436.6 L357.0,436.9 L359.9,437.1 L362.8,437.3 L365.7,437.6 L368.6,437.8 L371.5,438.0 L374.4,438.2 L377.2,438.4 L380.1,438.6 L383.0,438.8 L385.9,438.9 L388.8,439.1 L391.7,439.3 L394.6,439.4 L397.5,439.6 L400.3,439.8 L403.2,439.9 L406.1,440.0 L409.0,440.2 L411.9,440.3 L414.8,440.4 L417.7,440.6 L420.6,440.7 L423.5,440.8 L426.3,440.9 L429.2,441.0 L432.1,441.1 L435.0,441.2 L437.9,441.3 L440.8,441.4 L443.7,441.5 L446.6,441.6 L449.5,441.7 L452.3,441.8 L455.2,441.9 L458.1,441.9 L461.0,442.0 L463.9,442.1 L466.8,442.2 L469.7,442.2 L472.6,442.3 L475.4,442.4 L478.3,442.4 L481.2,442.5 L484.1,442.6 L487.0,442.6 L489.9,442.7 L492.8,442.7 L495.7,442.8 L498.6,442.9 L501.4,442.9 L504.3,443.0 L507.2,443.0 L510.1,443.1 L513.0,443.1 L515.9,443.1 L518.8,443.2 L521.7,443.2 L524.5,443.3 L527.4,443.3 L530.3,443.4 L533.2,443.4 L536.1,443.4 L539.0,443.5 L541.9,443.5 L544.8,443.5 L547.7,443.6 L550.5,443.6 L553.4,443.6 L556.3,443.7 L559.2,443.7 L562.1,443.7 L565.0,443.8 L567.9,443.8 L570.8,443.8 L573.7,443.8 L576.5,443.9 L579.4,443.9 L582.3,443.9 L585.2,443.9 L588.1,444.0 L591.0,444.0 L593.9,444.0 L596.8,444.0 L599.6,444.1 L602.5,444.1 L605.4,444.1 L608.3,444.1 L611.2,444.1 L614.1,444.2 L617.0,444.2 L619.9,444.2 L622.8,444.2 L625.6,444.2 L628.5,444.3 L631.4,444.3 L634.3,444.3 L637.2,444.3 L640.1,444.3 L643.0,444.3 L645.9,444.3 L648.7,444.4 L651.6,444.4 L654.5,444.4 L657.4,444.4 L660.3,444.4 L663.2,444.4 L666.1,444.4 L669.0,444.5 L671.9,444.5 L674.7,444.5 L677.6,444.5 L680.5,444.5 L683.4,444.5 L686.3,444.5 L689.2,444.5 L692.1,444.6 L695.0,444.6 L697.9,444.6 L700.7,444.6 L703.6,444.6 L706.5,444.6 L709.4,444.6 L712.3,444.6 L715.2,444.6 L718.1,444.6 L721.0,444.6 L723.8,444.7 L726.7,444.7 L729.6,444.7 L732.5,444.7 L735.4,444.7 L738.3,444.7 L741.2,444.7 L744.1,444.7 L747.0,444.7 L749.8,444.7 L752.7,444.7 L755.6,444.7 L758.5,444.7 L761.4,444.8 L764.3,444.8 L767.2,444.8 L770.1,444.8 L773.0,444.8 L775.8,444.8 L778.7,444.8 L781.6,444.8 L784.5,444.8 L787.4,444.8 L790.3,444.8 L793.2,444.8 L796.1,444.8 L798.9,444.8 L801.8,444.8 L804.7,444.8 L807.6,444.8 L810.5,444.9" fill="none" stroke="#0000ff" stroke-width="3.2" stroke-linejoin="round" stroke-linecap="butt" stroke-dasharray="7.3 3.5"/>
<path d="M88.4,445.2 L100.0,445.2 L102.8,445.2 L103.4,445.2 L104.0,445.2 L104.6,445.2 L105.2,445.2 L105.7,445.1 L106.3,445.1 L106.9,445.1 L107.5,445.0 L108.0,444.9 L108.6,444.8 L109.2,444.7 L109.8,444.5 L110.4,444.4 L110.9,444.1 L111.5,443.9 L112.1,443.6 L112.7,443.3 L113.2,442.9 L113.8,442.5 L114.4,442.0 L115.0,441.5 L115.6,440.9 L116.1,440.3 L116.7,439.6 L117.3,438.9 L117.9,438.2 L118.4,437.4 L119.0,436.6 L119.6,435.8 L120.2,434.9 L120.8,434.0 L121.3,433.1 L121.9,432.2 L122.5,431.3 L123.1,430.4 L123.6,429.4 L124.2,428.4 L124.8,427.5 L125.4,426.5 L125.9,425.5 L126.5,424.6 L127.1,423.6 L127.7,422.7 L128.3,421.7 L128.8,420.8 L129.4,419.9 L130.0,419.1 L130.6,418.2 L131.1,417.4 L131.7,416.5 L132.3,415.8 L132.9,415.0 L133.5,414.3 L134.0,413.6 L134.6,412.9 L135.2,412.3 L135.8,411.7 L136.3,411.1 L136.9,410.6 L137.5,410.0 L138.1,409.5 L138.7,409.1 L139.2,408.6 L139.8,408.2 L140.4,407.7 L141.0,407.4 L141.5,407.0 L142.1,406.7 L142.7,406.4 L143.3,406.1 L143.9,405.8 L144.4,405.5 L145.0,405.3 L145.6,405.1 L146.2,404.9 L146.7,404.7 L147.3,404.6 L147.9,404.4 L148.5,404.3 L149.1,404.2 L149.6,404.1 L150.2,404.0 L150.8,403.9 L151.4,403.9 L151.9,403.9 L152.5,403.9 L153.1,403.9 L153.7,403.9 L154.3,404.0 L154.8,404.0 L155.4,404.1 L156.0,404.2 L156.6,404.3 L157.1,404.4 L157.7,404.5 L158.3,404.6 L158.9,404.7 L159.5,404.9 L160.0,405.0 L160.6,405.2 L161.2,405.3 L161.8,405.5 L162.3,405.6 L162.9,405.8 L163.5,405.9 L164.1,406.1 L164.7,406.3 L165.2,406.4 L165.8,406.6 L166.4,406.7 L167.0,406.9 L167.5,407.0 L168.1,407.2 L168.7,407.3 L169.3,407.5 L169.9,407.6 L170.4,407.7 L171.0,407.9 L171.6,408.0 L172.2,408.1 L172.7,408.3 L173.3,408.4 L173.9,408.5 L174.5,408.7 L175.1,408.8 L175.6,409.0 L176.2,409.1 L176.8,409.2 L177.4,409.4 L177.9,409.5 L178.5,409.7 L179.1,409.8 L179.7,409.9 L180.3,410.1 L180.8,410.2 L181.4,410.4 L182.0,410.5 L182.6,410.7 L183.1,410.8 L183.7,411.0 L184.3,411.1 L184.9,411.3 L185.5,411.4 L186.0,411.6 L186.6,411.7 L187.2,411.9 L187.8,412.0 L188.3,412.2 L188.9,412.4 L189.5,412.5 L190.1,412.7 L190.6,412.8 L191.2,413.0 L191.8,413.2 L192.4,413.3 L193.0,413.5 L193.5,413.7 L194.1,413.8 L194.7,414.0 L195.3,414.2 L195.8,414.3 L196.4,414.5 L197.0,414.7 L197.6,414.8 L198.2,415.0 L198.7,415.1 L199.3,415.3 L199.9,415.5 L200.5,415.6 L201.0,415.8 L201.6,415.9 L202.2,416.1 L202.8,416.2 L203.4,416.4 L203.9,416.5 L204.5,416.7 L205.1,416.8 L205.7,416.9 L206.2,417.1 L206.8,417.2 L207.4,417.4 L208.0,417.5 L208.6,417.6 L209.1,417.8 L209.7,417.9 L210.3,418.0 L210.9,418.2 L211.4,418.3 L212.0,418.4 L212.6,418.6 L213.2,418.7 L213.8,418.8 L214.3,418.9 L214.9,419.1 L215.5,419.2 L216.1,419.3 L216.6,419.5 L217.2,419.6 L217.8,419.7 L218.4,419.8 L219.0,420.0 L219.5,420.1 L220.1,420.2 L220.7,420.3 L221.3,420.4 L221.8,420.6 L222.4,420.7 L223.0,420.8 L223.6,420.9 L224.2,421.1 L224.7,421.2 L225.3,421.3 L225.9,421.4 L226.5,421.5 L227.0,421.7 L227.6,421.8 L228.2,421.9 L228.8,422.0 L229.4,422.2 L229.9,422.3 L230.5,422.4 L231.1,422.5 L231.7,422.6 L232.2,422.8 L232.8,422.9 L233.4,423.0 L234.0,423.1 L234.6,423.2 L235.1,423.3 L235.7,423.4 L236.3,423.6 L236.9,423.7 L237.4,423.8 L238.0,423.9 L238.6,424.0 L239.2,424.1 L239.8,424.2 L240.3,424.3 L240.9,424.4 L241.5,424.5 L242.1,424.6 L242.6,424.7 L243.2,424.8 L243.8,424.9 L244.4,425.0 L245.0,425.1 L245.5,425.2 L246.1,425.3 L246.7,425.4 L247.3,425.5 L247.8,425.6 L248.4,425.7 L249.0,425.8 L249.6,425.9 L250.2,426.0 L250.7,426.1 L251.3,426.2 L251.9,426.3 L252.5,426.4 L253.0,426.5 L253.6,426.6 L254.2,426.7 L254.8,426.8 L255.3,426.9 L255.9,426.9 L256.5,427.0 L257.1,427.1 L257.7,427.2 L258.2,427.3 L258.8,427.4 L259.4,427.5 L260.0,427.6 L260.5,427.7 L261.1,427.8 L261.7,427.8 L262.3,427.9 L262.9,428.0 L263.4,428.1 L264.0,428.2 L264.6,428.3 L265.2,428.4 L265.7,428.4 L266.3,428.5 L266.9,428.6 L267.5,428.7 L268.1,428.8 L268.6,428.9 L269.2,428.9 L269.8,429.0 L270.4,429.1 L270.9,429.2 L271.5,429.3 L272.1,429.4 L272.7,429.4 L273.3,429.5 L273.8,429.6 L274.4,429.7 L275.0,429.8 L275.6,429.8 L276.1,429.9 L276.7,430.0 L277.3,430.1 L277.9,430.1 L278.5,430.2 L279.0,430.3 L279.6,430.4 L280.2,430.5 L280.8,430.5 L281.3,430.6 L281.9,430.7 L282.5,430.8 L283.1,430.8 L283.7,430.9 L284.2,431.0 L284.8,431.1 L285.4,431.1 L286.0,431.2 L286.5,431.3 L287.1,431.4 L287.7,431.4 L288.3,431.5 L288.9,431.6 L289.4,431.6 L290.0,431.7 L290.6,431.8 L291.2,431.9 L291.7,431.9 L292.3,432.0 L292.9,432.1 L293.5,432.1 L294.1,432.2 L294.6,432.3 L295.2,432.4 L295.8,432.4 L296.4,432.5 L296.9,432.6 L297.5,432.6 L298.1,432.7 L298.7,432.8 L299.3,432.8 L299.8,432.9 L300.4,433.0 L301.0,433.0 L301.6,433.1 L302.1,433.2 L302.7,433.2 L303.3,433.3 L303.9,433.4 L304.5,433.4 L305.0,433.5 L305.6,433.6 L306.2,433.6 L306.8,433.7 L307.3,433.8 L307.9,433.8 L308.5,433.9 L309.1,433.9 L309.7,434.0 L310.2,434.1 L310.8,434.1 L311.4,434.2 L312.0,434.3 L312.5,434.3 L313.1,434.4 L313.7,434.4 L314.3,434.5 L314.9,434.5 L315.4,434.6 L316.0,434.7 L316.6,434.7 L317.2,434.8 L317.7,434.8 L318.3,434.9 L318.9,435.0 L319.5,435.0 L322.4,435.3 L325.2,435.6 L328.1,435.8 L331.0,436.1 L333.9,436.3 L336.8,436.6 L339.7,436.8 L342.6,437.0 L345.5,437.3 L348.4,437.5 L351.2,437.7 L354.1,437.9 L357.0,438.1 L359.9,438.3 L362.8,438.5 L365.7,438.7 L368.6,438.8 L371.5,439.0 L374.4,439.2 L377.2,439.3 L380.1,439.5 L383.0,439.6 L385.9,439.8 L388.8,439.9 L391.7,440.1 L394.6,440.2 L397.5,440.3 L400.3,440.4 L403.2,440.6 L406.1,440.7 L409.0,440.8 L411.9,440.9 L414.8,441.0 L417.7,441.1 L420.6,441.2 L423.5,441.3 L426.3,441.4 L429.2,441.5 L432.1,441.6 L435.0,441.7 L437.9,441.8 L440.8,441.8 L443.7,441.9 L446.6,442.0 L449.5,442.1 L452.3,442.1 L455.2,442.2 L458.1,442.3 L461.0,442.3 L463.9,442.4 L466.8,442.5 L469.7,442.5 L472.6,442.6 L475.4,442.7 L478.3,442.7 L481.2,442.8 L484.1,442.8 L487.0,442.9 L489.9,442.9 L492.8,443.0 L495.7,443.0 L498.6,443.1 L501.4,443.1 L504.3,443.2 L507.2,443.2 L510.1,443.2 L513.0,443.3 L515.9,443.3 L518.8,443.4 L521.7,443.4 L524.5,443.4 L527.4,443.5 L530.3,443.5 L533.2,443.5 L536.1,443.6 L539.0,443.6 L541.9,443.6 L544.8,443.7 L547.7,443.7 L550.5,443.7 L553.4,443.8 L556.3,443.8 L559.2,443.8 L562.1,443.8 L565.0,443.9 L567.9,443.9 L570.8,443.9 L573.7,443.9 L576.5,444.0 L579.4,444.0 L582.3,444.0 L585.2,444.0 L588.1,444.1 L591.0,444.1 L593.9,444.1 L596.8,444.1 L599.6,444.1 L602.5,444.2 L605.4,444.2 L608.3,444.2 L611.2,444.2 L614.1,444.2 L617.0,444.3 L619.9,444.3 L622.8,444.3 L625.6,444.3 L628.5,444.3 L631.4,444.3 L634.3,444.3 L637.2,444.4 L640.1,444.4 L643.0,444.4 L645.9,444.4 L648.7,444.4 L651.6,444.4 L654.5,444.4 L657.4,444.5 L660.3,444.5 L663.2,444.5 L666.1,444.5 L669.0,444.5 L671.9,444.5 L674.7,444.5 L677.6,444.5 L680.5,444.6 L683.4,444.6 L686.3,444.6 L689.2,444.6 L692.1,444.6 L695.0,444.6 L697.9,444.6 L700.7,444.6 L703.6,444.6 L706.5,444.6 L709.4,444.6 L712.3,444.7 L715.2,444.7 L718.1,444.7 L721.0,444.7 L723.8,444.7 L726.7,444.7 L729.6,444.7 L732.5,444.7 L735.4,444.7 L738.3,444.7 L741.2,444.7 L744.1,444.7 L747.0,444.7 L749.8,444.8 L752.7,444.8 L755.6,444.8 L758.5,444.8 L761.4,444.8 L764.3,444.8 L767.2,444.8 L770.1,444.8 L773.0,444.8 L775.8,444.8 L778.7,444.8 L781.6,444.8 L784.5,444.8 L787.4,444.8 L790.3,444.8 L793.2,444.8 L796.1,444.8 L798.9,444.9 L801.8,444.9 L804.7,444.9 L807.6,444.9 L810.5,444.9" fill="none" stroke="#ff8000" stroke-width="3.2" stroke-linejoin="round" stroke-linecap="butt" stroke-dasharray="7.3 3.5"/>
<g opacity="0.999" stroke="#000" stroke-width="0.2">
<text transform="translate(36.21,453.30) scale(0.9809,1)" font-size="23.20">0</text>
<rect x="51.9" y="450.40" width="2.8" height="2.9" fill="#000" stroke="none"/>
<text transform="translate(57.92,453.30) scale(0.9719,1)" font-size="23.20">0</text>
<text transform="translate(36.21,385.26) scale(0.9809,1)" font-size="23.20">0</text>
<rect x="51.9" y="382.36" width="2.8" height="2.9" fill="#000" stroke="none"/>
<text transform="translate(57.33,385.26) scale(1.0114,1)" font-size="23.20">2</text>
<text transform="translate(36.21,317.22) scale(0.9809,1)" font-size="23.20">0</text>
<rect x="51.9" y="314.32" width="2.8" height="2.9" fill="#000" stroke="none"/>
<text transform="translate(57.48,317.22) scale(1.0157,1)" font-size="23.20">4</text>
<text transform="translate(36.21,249.18) scale(0.9809,1)" font-size="23.20">0</text>
<rect x="51.9" y="246.28" width="2.8" height="2.9" fill="#000" stroke="none"/>
<text transform="translate(57.51,249.18) scale(1.0241,1)" font-size="23.20">6</text>
<text transform="translate(36.21,181.14) scale(0.9809,1)" font-size="23.20">0</text>
<rect x="51.9" y="178.24" width="2.8" height="2.9" fill="#000" stroke="none"/>
<text transform="translate(57.59,181.14) scale(1.0088,1)" font-size="23.20">8</text>
<path stroke="none" fill="#000" d="M42.00,96.60 H44.50 V111.20 H48.40 V113.10 H39.20 V111.20 H42.00 V99.50 L38.70,100.50 V98.50 Z"/>
<rect x="51.9" y="110.20" width="2.8" height="2.9" fill="#000" stroke="none"/>
<text transform="translate(57.92,113.10) scale(0.9719,1)" font-size="23.20">0</text>
<path stroke="none" fill="#000" d="M42.00,28.56 H44.50 V43.16 H48.40 V45.06 H39.20 V43.16 H42.00 V31.46 L38.70,32.46 V30.46 Z"/>
<rect x="51.9" y="42.16" width="2.8" height="2.9" fill="#000" stroke="none"/>
<text transform="translate(57.33,45.06) scale(1.0114,1)" font-size="23.20">2</text>
<text transform="translate(82.00,492.70) scale(0.9898,1)" font-size="23.20">0</text>
<path stroke="none" fill="#000" d="M231.52,476.20 H234.02 V490.80 H237.92 V492.70 H228.72 V490.80 H231.52 V479.10 L228.22,480.10 V478.10 Z"/>
<text transform="translate(370.43,492.70) scale(1.0398,1)" font-size="23.20">2</text>
<text transform="translate(515.39,492.70) scale(0.9891,1)" font-size="23.20">3</text>
<text transform="translate(659.24,492.70) scale(1.0498,1)" font-size="23.20">4</text>
<text transform="translate(804.29,492.70) scale(0.9800,1)" font-size="23.20">5</text>
<text transform="translate(431.81,524.50) scale(1.1677,1)" font-size="23.20">r</text>
<text transform="translate(441.40,524.50) scale(0.9303,1)" font-size="23.20">/</text>
<text transform="translate(448.04,524.50) scale(1.0309,1)" font-size="23.20">M</text>
<text transform="translate(25.80,307.95) rotate(-90) scale(0.9506,1)" font-size="23.20" class="i">κ</text>
<text transform="translate(25.80,295.13) rotate(-90) scale(1.0357,1)" font-size="23.20">T</text>
<text transform="translate(30.50,283.42) rotate(-90) scale(1.2072,1)" font-size="17.00" class="i">t</text>
<text transform="translate(14.00,274.47) rotate(-90) scale(1.1414,1)" font-size="17.00" class="i">t</text>
<text transform="translate(25.80,260.39) rotate(-90) scale(0.9123,1)" font-size="23.20">a</text>
<text transform="translate(25.80,247.30) rotate(-90) scale(1.1130,1)" font-size="23.20">n</text>
<text transform="translate(25.80,232.34) rotate(-90) scale(1.1686,1)" font-size="23.20">d</text>
<path d="M18.80,208.6V197.4" stroke="#000" stroke-width="2.0" fill="none"/>
<text transform="translate(25.80,196.68) rotate(-90) scale(0.9488,1)" font-size="23.20" class="i">G</text>
<text transform="translate(30.50,179.42) rotate(-90) scale(1.2072,1)" font-size="17.00" class="i">t</text>
<text transform="translate(14.00,170.47) rotate(-90) scale(1.1414,1)" font-size="17.00" class="i">t</text>
<line x1="581" y1="112.8" x2="617" y2="112.8" stroke="#ff0000" stroke-width="1.7"/>
<text transform="translate(629.11,119.30) scale(0.8947,1)" font-size="20.40" class="i">κ</text>
<text transform="translate(639.52,119.30) scale(1.0739,1)" font-size="20.40">T</text>
<text transform="translate(651.41,123.10) scale(1.3184,1)" font-size="15.00" class="i">t</text>
<text transform="translate(658.49,110.90) scale(1.1940,1)" font-size="15.00" class="i">t</text>
<path d="M666.00,111.60H676.00M666.00,116.40H676.00" stroke="#000" stroke-width="2.0" fill="none"/>
<path d="M678.50,113.90H688.50" stroke="#000" stroke-width="1.8" fill="none"/>
<text transform="translate(689.54,119.30) scale(0.9647,1)" font-size="20.40" class="i">G</text>
<text transform="translate(705.08,123.10) scale(1.3682,1)" font-size="15.00" class="i">t</text>
<text transform="translate(712.64,110.90) scale(1.2687,1)" font-size="15.00" class="i">t</text>
<path d="M724.20,117.00 L722.30,122.50" stroke="#000" stroke-width="1.8" fill="none"/>
<text transform="translate(733.18,119.30) scale(0.9518,1)" font-size="20.40">a</text><path d="M746.00,111.60H755.30M746.00,116.40H755.30" stroke="#000" stroke-width="2.0" fill="none"/><text transform="translate(757.15,119.30) scale(1.0745,1)" font-size="20.40">0</text>
<line x1="581" y1="154.2" x2="617" y2="154.2" stroke="#00ab00" stroke-width="1.7"/>
<text transform="translate(629.11,160.65) scale(0.8947,1)" font-size="20.40" class="i">κ</text>
<text transform="translate(639.52,160.65) scale(1.0739,1)" font-size="20.40">T</text>
<text transform="translate(651.41,164.45) scale(1.3184,1)" font-size="15.00" class="i">t</text>
<text transform="translate(658.49,152.25) scale(1.1940,1)" font-size="15.00" class="i">t</text>
<path d="M669.20,158.35 L667.30,163.85" stroke="#000" stroke-width="1.8" fill="none"/>
<text transform="translate(678.68,160.65) scale(0.9518,1)" font-size="20.40">a</text><path d="M691.50,152.95H700.80M691.50,157.75H700.80" stroke="#000" stroke-width="2.0" fill="none"/><text transform="translate(702.62,160.65) scale(1.1028,1)" font-size="20.40">0.25M</text>
<line x1="581" y1="195.5" x2="617" y2="195.5" stroke="#0000ff" stroke-width="1.7"/>
<text transform="translate(629.11,202.00) scale(0.8947,1)" font-size="20.40" class="i">κ</text>
<text transform="translate(639.52,202.00) scale(1.0739,1)" font-size="20.40">T</text>
<text transform="translate(651.41,205.80) scale(1.3184,1)" font-size="15.00" class="i">t</text>
<text transform="translate(658.49,193.60) scale(1.1940,1)" font-size="15.00" class="i">t</text>
<path d="M669.20,199.70 L667.30,205.20" stroke="#000" stroke-width="1.8" fill="none"/>
<text transform="translate(678.68,202.00) scale(0.9518,1)" font-size="20.40">a</text><path d="M691.50,194.30H700.80M691.50,199.10H700.80" stroke="#000" stroke-width="2.0" fill="none"/><text transform="translate(702.62,202.00) scale(1.1028,1)" font-size="20.40">0.50M</text>
<line x1="581" y1="236.9" x2="617" y2="236.9" stroke="#ff8000" stroke-width="1.7"/>
<text transform="translate(629.11,243.35) scale(0.8947,1)" font-size="20.40" class="i">κ</text>
<text transform="translate(639.52,243.35) scale(1.0739,1)" font-size="20.40">T</text>
<text transform="translate(651.41,247.15) scale(1.3184,1)" font-size="15.00" class="i">t</text>
<text transform="translate(658.49,234.95) scale(1.1940,1)" font-size="15.00" class="i">t</text>
<path d="M669.20,241.05 L667.30,246.55" stroke="#000" stroke-width="1.8" fill="none"/>
<text transform="translate(678.68,243.35) scale(0.9518,1)" font-size="20.40">a</text><path d="M691.50,235.65H700.80M691.50,240.45H700.80" stroke="#000" stroke-width="2.0" fill="none"/><text transform="translate(702.62,243.35) scale(1.1028,1)" font-size="20.40">0.75M</text>
<line x1="581" y1="278.2" x2="617" y2="278.2" stroke="#00ab00" stroke-width="1.7" stroke-dasharray="6.2 4.8"/>
<path d="M629.00,279.30H638.80" stroke="#000" stroke-width="1.8" fill="none"/>
<text transform="translate(640.04,284.70) scale(0.9647,1)" font-size="20.40" class="i">G</text>
<text transform="translate(655.64,288.50) scale(1.2687,1)" font-size="15.00" class="i">t</text>
<text transform="translate(662.69,276.30) scale(1.3433,1)" font-size="15.00" class="i">t</text>
<path d="M674.20,282.40 L672.30,287.90" stroke="#000" stroke-width="1.8" fill="none"/>
<text transform="translate(683.18,284.70) scale(0.9518,1)" font-size="20.40">a</text><path d="M696.00,277.00H705.30M696.00,281.80H705.30" stroke="#000" stroke-width="2.0" fill="none"/><text transform="translate(707.12,284.70) scale(1.1028,1)" font-size="20.40">0.25M</text>
<line x1="581" y1="319.6" x2="617" y2="319.6" stroke="#0000ff" stroke-width="1.7" stroke-dasharray="6.2 4.8"/>
<path d="M629.00,320.65H638.80" stroke="#000" stroke-width="1.8" fill="none"/>
<text transform="translate(640.04,326.05) scale(0.9647,1)" font-size="20.40" class="i">G</text>
<text transform="translate(655.64,329.85) scale(1.2687,1)" font-size="15.00" class="i">t</text>
<text transform="translate(662.69,317.65) scale(1.3433,1)" font-size="15.00" class="i">t</text>
<path d="M674.20,323.75 L672.30,329.25" stroke="#000" stroke-width="1.8" fill="none"/>
<text transform="translate(683.18,326.05) scale(0.9518,1)" font-size="20.40">a</text><path d="M696.00,318.35H705.30M696.00,323.15H705.30" stroke="#000" stroke-width="2.0" fill="none"/><text transform="translate(707.12,326.05) scale(1.1028,1)" font-size="20.40">0.50M</text>
<line x1="581" y1="360.9" x2="617" y2="360.9" stroke="#ff8000" stroke-width="1.7" stroke-dasharray="6.2 4.8"/>
<path d="M629.00,362.00H638.80" stroke="#000" stroke-width="1.8" fill="none"/>
<text transform="translate(640.04,367.40) scale(0.9647,1)" font-size="20.40" class="i">G</text>
<text transform="translate(655.64,371.20) scale(1.2687,1)" font-size="15.00" class="i">t</text>
<text transform="translate(662.69,359.00) scale(1.3433,1)" font-size="15.00" class="i">t</text>
<path d="M674.20,365.10 L672.30,370.60" stroke="#000" stroke-width="1.8" fill="none"/>
<text transform="translate(683.18,367.40) scale(0.9518,1)" font-size="20.40">a</text><path d="M696.00,359.70H705.30M696.00,364.50H705.30" stroke="#000" stroke-width="2.0" fill="none"/><text transform="translate(707.12,367.40) scale(1.1028,1)" font-size="20.40">0.75M</text>
</g>
</svg></body></html>
